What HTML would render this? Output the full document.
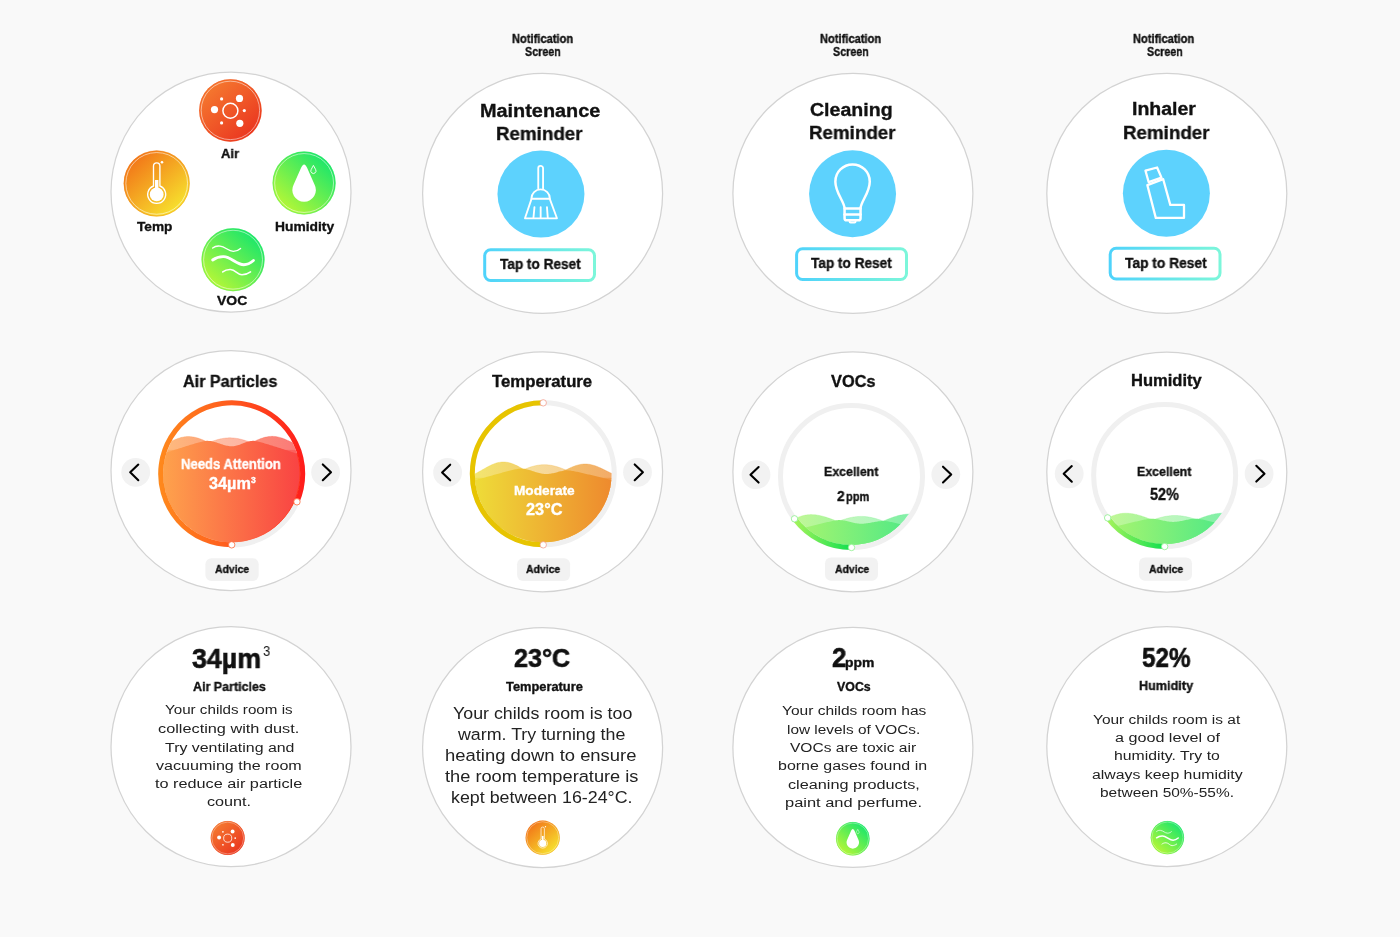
<!DOCTYPE html><html><head><meta charset="utf-8"><title>Air monitor screens</title><style>html,body{margin:0;padding:0;}body{width:1400px;height:937px;background:#f9f9f9;position:relative;overflow:hidden;font-family:"Liberation Sans",sans-serif;}.bg{position:absolute;left:0;top:0;}.t{position:absolute;white-space:nowrap;line-height:1;transform-origin:0 0;will-change:transform;}.bm{display:inline-block;width:0;height:0;vertical-align:baseline;}</style></head><body><svg class="bg" width="1400" height="937" viewBox="0 0 1400 937"><defs><linearGradient id="gAir" x1="0.15" y1="0.1" x2="0.85" y2="0.9" gradientUnits="objectBoundingBox"><stop offset="0" stop-color="#f57a2f"/><stop offset="1" stop-color="#ea3520"/></linearGradient><linearGradient id="gTemp" x1="0.15" y1="0.1" x2="0.85" y2="0.9" gradientUnits="objectBoundingBox"><stop offset="0" stop-color="#f27418"/><stop offset="1" stop-color="#f7e42e"/></linearGradient><linearGradient id="gGreen" x1="0.85" y1="0.1" x2="0.15" y2="0.9" gradientUnits="objectBoundingBox"><stop offset="0" stop-color="#17e66c"/><stop offset="1" stop-color="#b9f735"/></linearGradient><linearGradient id="gBtn" x1="0" y1="0" x2="1" y2="0" gradientUnits="objectBoundingBox"><stop offset="0" stop-color="#4fd3fb"/><stop offset="1" stop-color="#7cf6da"/></linearGradient><linearGradient id="arc1" x1="157.7" y1="473.85" x2="305.7" y2="473.85" gradientUnits="userSpaceOnUse"><stop offset="0" stop-color="#ff8a1c"/><stop offset="0.5" stop-color="#ff5a1e"/><stop offset="1" stop-color="#ff1a1a"/></linearGradient><linearGradient id="fill1" x1="163.7" y1="473.85" x2="299.7" y2="473.85" gradientUnits="userSpaceOnUse"><stop offset="0" stop-color="#fea24c"/><stop offset="1" stop-color="#f94343"/></linearGradient><clipPath id="gclip1"><circle cx="231.7" cy="473.85" r="68.4"/></clipPath><clipPath id="gclip1b"><path d="M156.7,455.71 L157.7,455.39 L158.7,455.06 L159.7,454.73 L160.7,454.41 L161.7,454.08 L162.7,453.76 L163.7,453.43 L164.7,453.11 L165.7,452.78 L166.7,452.46 L167.7,452.13 L168.7,451.81 L169.7,451.49 L170.7,451.16 L171.7,450.84 L172.7,450.52 L173.7,450.19 L174.7,449.87 L175.7,449.55 L176.7,449.23 L177.7,448.91 L178.7,448.59 L179.7,448.27 L180.7,447.95 L181.7,447.63 L182.7,447.31 L183.7,447 L184.7,446.68 L185.7,446.37 L186.7,446.05 L187.7,445.74 L188.7,445.43 L189.7,445.12 L190.7,444.81 L191.7,444.51 L192.7,444.2 L193.7,443.9 L194.7,443.61 L195.7,443.31 L196.7,443.03 L197.7,442.74 L198.7,442.47 L199.7,442.2 L200.7,441.94 L201.7,441.69 L202.7,441.46 L203.7,441.26 L204.7,441.08 L205.7,440.94 L206.7,440.86 L207.7,440.86 L208.7,440.9 L209.7,440.99 L210.7,441.12 L211.7,441.29 L212.7,441.5 L213.7,441.73 L214.7,442 L215.7,442.29 L216.7,442.6 L217.7,442.93 L218.7,443.26 L219.7,443.6 L220.7,443.94 L221.7,444.27 L222.7,444.6 L223.7,444.9 L224.7,445.18 L225.7,445.44 L226.7,445.67 L227.7,445.86 L228.7,446.02 L229.7,446.14 L230.7,446.21 L231.7,446.25 L232.7,446.24 L233.7,446.16 L234.7,446.03 L235.7,445.85 L236.7,445.61 L237.7,445.33 L238.7,445 L239.7,444.65 L240.7,444.27 L241.7,443.87 L242.7,443.47 L243.7,443.07 L244.7,442.68 L245.7,442.31 L246.7,441.96 L247.7,441.66 L248.7,441.39 L249.7,441.17 L250.7,441.01 L251.7,440.9 L252.7,440.85 L253.7,440.87 L254.7,440.97 L255.7,441.13 L256.7,441.32 L257.7,441.53 L258.7,441.77 L259.7,442.02 L260.7,442.28 L261.7,442.55 L262.7,442.83 L263.7,443.11 L264.7,443.4 L265.7,443.7 L266.7,443.99 L267.7,444.29 L268.7,444.6 L269.7,444.9 L270.7,445.21 L271.7,445.52 L272.7,445.83 L273.7,446.15 L274.7,446.46 L275.7,446.77 L276.7,447.09 L277.7,447.41 L278.7,447.73 L279.7,448.04 L280.7,448.36 L281.7,448.68 L282.7,449 L283.7,449.32 L284.7,449.65 L285.7,449.97 L286.7,450.29 L287.7,450.61 L288.7,450.94 L289.7,451.26 L290.7,451.58 L291.7,451.91 L292.7,452.23 L293.7,452.56 L294.7,452.88 L295.7,453.2 L296.7,453.53 L297.7,453.86 L298.7,454.18 L299.7,454.51 L300.7,454.83 L301.7,455.16 L302.7,455.48 L303.7,455.81 L304.7,456.14 L305.7,456.46 L306.7,456.79 V553.85 H151.7 Z"/></clipPath><linearGradient id="fe1" x1="163.7" y1="473.85" x2="299.7" y2="473.85" gradientUnits="userSpaceOnUse"><stop offset="0" stop-color="#ff3a1a" stop-opacity="0"/><stop offset="0.55" stop-color="#ff3a1a" stop-opacity="0"/><stop offset="1" stop-color="#ff3a1a" stop-opacity="1"/></linearGradient><linearGradient id="arc2" x1="469.25" y1="473.85" x2="617.25" y2="473.85" gradientUnits="userSpaceOnUse"><stop offset="0" stop-color="#e6c300"/><stop offset="1" stop-color="#e6c300"/></linearGradient><linearGradient id="fill2" x1="475.25" y1="473.85" x2="611.25" y2="473.85" gradientUnits="userSpaceOnUse"><stop offset="0" stop-color="#eedc38"/><stop offset="1" stop-color="#ee8a2e"/></linearGradient><clipPath id="gclip2"><circle cx="543.25" cy="473.85" r="68.4"/></clipPath><linearGradient id="arc3" x1="777.5" y1="476.5" x2="925.5" y2="476.5" gradientUnits="userSpaceOnUse"><stop offset="0" stop-color="#b0f560"/><stop offset="0.12" stop-color="#a2f35a"/><stop offset="0.5" stop-color="#0fdf4f"/><stop offset="1" stop-color="#0fdf4f"/></linearGradient><linearGradient id="fill3" x1="783.5" y1="476.5" x2="919.5" y2="476.5" gradientUnits="userSpaceOnUse"><stop offset="0" stop-color="#b2f66c"/><stop offset="1" stop-color="#48e888"/></linearGradient><clipPath id="gclip3"><circle cx="851.5" cy="476.5" r="68.4"/></clipPath><linearGradient id="arc4" x1="1090.65" y1="475.55" x2="1238.65" y2="475.55" gradientUnits="userSpaceOnUse"><stop offset="0" stop-color="#b0f560"/><stop offset="0.12" stop-color="#a2f35a"/><stop offset="0.5" stop-color="#0fdf4f"/><stop offset="1" stop-color="#0fdf4f"/></linearGradient><linearGradient id="fill4" x1="1096.65" y1="475.55" x2="1232.65" y2="475.55" gradientUnits="userSpaceOnUse"><stop offset="0" stop-color="#b2f66c"/><stop offset="1" stop-color="#48e888"/></linearGradient><clipPath id="gclip4"><circle cx="1164.65" cy="475.55" r="68.4"/></clipPath></defs><circle cx="231" cy="192" r="120" fill="#fff" stroke="#d3d3d3" stroke-width="1.25"/><circle cx="542.6" cy="193.4" r="120" fill="#fff" stroke="#d3d3d3" stroke-width="1.25"/><circle cx="852.9" cy="193.4" r="120" fill="#fff" stroke="#d3d3d3" stroke-width="1.25"/><circle cx="1166.8" cy="193.4" r="120" fill="#fff" stroke="#d3d3d3" stroke-width="1.25"/><circle cx="231" cy="470.5" r="120" fill="#fff" stroke="#d3d3d3" stroke-width="1.25"/><circle cx="542.6" cy="471.8" r="120" fill="#fff" stroke="#d3d3d3" stroke-width="1.25"/><circle cx="852.9" cy="471.8" r="120" fill="#fff" stroke="#d3d3d3" stroke-width="1.25"/><circle cx="1166.8" cy="472" r="120" fill="#fff" stroke="#d3d3d3" stroke-width="1.25"/><circle cx="231" cy="746.7" r="120" fill="#fff" stroke="#d3d3d3" stroke-width="1.25"/><circle cx="542.6" cy="747.6" r="120" fill="#fff" stroke="#d3d3d3" stroke-width="1.25"/><circle cx="852.9" cy="747.4" r="120" fill="#fff" stroke="#d3d3d3" stroke-width="1.25"/><circle cx="1166.8" cy="746.5" r="120" fill="#fff" stroke="#d3d3d3" stroke-width="1.25"/><circle cx="230.4" cy="110.4" r="31.25" fill="url(#gAir)"/><circle cx="230.4" cy="110.4" r="30.9" fill="none" stroke="#f24b18" stroke-width="0.62" stroke-opacity="0.55"/><circle cx="230.4" cy="110.4" r="29.22" fill="none" stroke="#fff" stroke-width="0.69" stroke-opacity="0.75"/><g transform="translate(230.4 110.4) scale(1)" fill="#fff"><circle cx="0" cy="0.3" r="7.5" fill="none" stroke="#fff" stroke-width="1.45"/><circle cx="9.1" cy="-12" r="3.6"/><circle cx="9.4" cy="12.9" r="3.6"/><circle cx="-15.9" cy="-0.8" r="3.6"/><circle cx="-8.8" cy="-11.5" r="1.6"/><circle cx="-8.8" cy="12.5" r="1.6"/><circle cx="13.9" cy="0.2" r="1.6"/></g><circle cx="156.7" cy="183.4" r="33" fill="url(#gTemp)"/><circle cx="156.7" cy="183.4" r="32.65" fill="none" stroke="#f07a16" stroke-width="0.66" stroke-opacity="0.55"/><circle cx="156.7" cy="183.4" r="30.86" fill="none" stroke="#fff" stroke-width="0.73" stroke-opacity="0.75"/><g transform="translate(156.7 183.4) scale(1)"><path d="M-3.2,2.6 V-17.3 A3.2,3.2 0 0 1 3.2,-17.3 V2.6 A9,9 0 1 1 -3.2,2.6 Z" fill="none" stroke="#fff" stroke-width="1.35" stroke-linejoin="round"/><circle cx="0" cy="11" r="6.9" fill="#fff"/><rect x="-1.7" y="-3.4" width="3.4" height="12" fill="#fff"/><circle cx="5.3" cy="-21.2" r="1.3" fill="#fff"/></g><circle cx="304.1" cy="183" r="31.5" fill="url(#gGreen)"/><circle cx="304.1" cy="183" r="31.15" fill="none" stroke="#2ae860" stroke-width="0.63" stroke-opacity="0.55"/><circle cx="304.1" cy="183" r="29.45" fill="none" stroke="#fff" stroke-width="0.69" stroke-opacity="0.75"/><g transform="translate(304.1 183) scale(1)"><path d="M0,-18.4 C1.2,-18.4 2,-17 3,-15.3 L10.4,1.4 A11.8,11.8 0 1 1 -10.4,1.4 L-3,-15.3 C-2,-17 -1.2,-18.4 0,-18.4 Z" fill="#fff"/><path d="M9.3,-17.6 L11.5,-13.5 A2.6,2.6 0 1 1 7.1,-13.5 Z" fill="none" stroke="#fff" stroke-width="0.9" stroke-linejoin="round"/></g><circle cx="233.05" cy="259.7" r="31.5" fill="url(#gGreen)"/><circle cx="233.05" cy="259.7" r="31.15" fill="none" stroke="#2ae860" stroke-width="0.63" stroke-opacity="0.55"/><circle cx="233.05" cy="259.7" r="29.45" fill="none" stroke="#fff" stroke-width="0.69" stroke-opacity="0.75"/><g transform="translate(233.05 259.7) scale(1)" fill="none" stroke="#fff" stroke-linecap="round"><path d="M-20.4,-11.6 C-18,-13.6 -15.5,-13.9 -13,-13.6 C-7.5,-13 -5,-8.4 0.3,-8.4 C3.5,-8.4 5.8,-9.6 7.5,-11.2" stroke-width="1.35"/><path d="M-20.4,0.3 C-17,-2.2 -13,-3.2 -9.4,-3.1 C-2,-3 3.5,5 10.8,5 C14.5,5 17.8,3 20.4,0.8" stroke-width="2.9"/><path d="M-10.3,12.2 C-8,10.4 -5.5,9.7 -2.6,9.8 C2.5,10 4.5,15.1 8.9,15.1 C12,15.1 15,14 17.5,12.2" stroke-width="1.55"/></g><circle cx="227.7" cy="838" r="17" fill="url(#gAir)"/><circle cx="227.7" cy="838" r="16.65" fill="none" stroke="#f24b18" stroke-width="0.5" stroke-opacity="0.55"/><circle cx="227.7" cy="838" r="15.9" fill="none" stroke="#fff" stroke-width="0.45" stroke-opacity="0.75"/><g transform="translate(227.7 838) scale(0.54)" fill="#fff"><circle cx="0" cy="0.3" r="7.5" fill="none" stroke="#fff" stroke-width="1.45"/><circle cx="9.1" cy="-12" r="3.6"/><circle cx="9.4" cy="12.9" r="3.6"/><circle cx="-15.9" cy="-0.8" r="3.6"/><circle cx="-8.8" cy="-11.5" r="1.6"/><circle cx="-8.8" cy="12.5" r="1.6"/><circle cx="13.9" cy="0.2" r="1.6"/></g><circle cx="542.7" cy="837.7" r="17.1" fill="url(#gTemp)"/><circle cx="542.7" cy="837.7" r="16.75" fill="none" stroke="#f07a16" stroke-width="0.5" stroke-opacity="0.55"/><circle cx="542.7" cy="837.7" r="15.99" fill="none" stroke="#fff" stroke-width="0.45" stroke-opacity="0.75"/><g transform="translate(542.7 837.7) scale(0.52)"><path d="M-3.2,2.6 V-17.3 A3.2,3.2 0 0 1 3.2,-17.3 V2.6 A9,9 0 1 1 -3.2,2.6 Z" fill="none" stroke="#fff" stroke-width="1.35" stroke-linejoin="round"/><circle cx="0" cy="11" r="6.9" fill="#fff"/><rect x="-1.7" y="-3.4" width="3.4" height="12" fill="#fff"/><circle cx="5.3" cy="-21.2" r="1.3" fill="#fff"/></g><circle cx="852.8" cy="838.7" r="16.8" fill="url(#gGreen)"/><circle cx="852.8" cy="838.7" r="16.45" fill="none" stroke="#2ae860" stroke-width="0.5" stroke-opacity="0.55"/><circle cx="852.8" cy="838.7" r="15.71" fill="none" stroke="#fff" stroke-width="0.45" stroke-opacity="0.75"/><g transform="translate(852.8 838.7) scale(0.53)"><path d="M0,-18.4 C1.2,-18.4 2,-17 3,-15.3 L10.4,1.4 A11.8,11.8 0 1 1 -10.4,1.4 L-3,-15.3 C-2,-17 -1.2,-18.4 0,-18.4 Z" fill="#fff"/><path d="M9.3,-17.6 L11.5,-13.5 A2.6,2.6 0 1 1 7.1,-13.5 Z" fill="none" stroke="#fff" stroke-width="0.9" stroke-linejoin="round"/></g><circle cx="1167.4" cy="837.6" r="16.7" fill="url(#gGreen)"/><circle cx="1167.4" cy="837.6" r="16.35" fill="none" stroke="#2ae860" stroke-width="0.5" stroke-opacity="0.55"/><circle cx="1167.4" cy="837.6" r="15.61" fill="none" stroke="#fff" stroke-width="0.45" stroke-opacity="0.75"/><g transform="translate(1167.4 837.6) scale(0.53)" fill="none" stroke="#fff" stroke-linecap="round"><path d="M-20.4,-11.6 C-18,-13.6 -15.5,-13.9 -13,-13.6 C-7.5,-13 -5,-8.4 0.3,-8.4 C3.5,-8.4 5.8,-9.6 7.5,-11.2" stroke-width="1.35"/><path d="M-20.4,0.3 C-17,-2.2 -13,-3.2 -9.4,-3.1 C-2,-3 3.5,5 10.8,5 C14.5,5 17.8,3 20.4,0.8" stroke-width="2.9"/><path d="M-10.3,12.2 C-8,10.4 -5.5,9.7 -2.6,9.8 C2.5,10 4.5,15.1 8.9,15.1 C12,15.1 15,14 17.5,12.2" stroke-width="1.55"/></g><circle cx="540.96" cy="194.1" r="43.5" fill="#5dd2fd"/><g transform="translate(540.96 194.1)" fill="none" stroke="#fff" stroke-width="1.85" stroke-linejoin="round" stroke-linecap="round"><path d="M-2.7,-5.6 V-25.8 A2.4,2.4 0 0 1 2.1,-25.8 V-5.6"/><path d="M-9.6,4.6 A9.3,9.3 0 0 1 9,4.6 Z"/><path d="M-9.6,5.3 L-16,24.2 H16 L9,5.3"/><path d="M-6.5,13 L-7.5,23.5 M-0.3,13 V23.5 M6,13 L6.8,23.5"/></g><circle cx="852.56" cy="193.83" r="43.5" fill="#5dd2fd"/><g transform="translate(852.56 193.83)" fill="none" stroke="#fff" stroke-width="2.5" stroke-linejoin="round" stroke-linecap="round"><path d="M-8,14.6 C-8,8 -17.2,-1 -17.2,-12.2 A17.2,17.2 0 0 1 17.2,-12.2 C17.2,-1 8,8 8,14.6 Z"/><path d="M-8,14.6 V24.3 Q-8,26.4 -5.9,26.4 H5.9 Q8,26.4 8,24.3 V14.6"/><path d="M-8,20.6 H8"/><path d="M-3,27 V27.6 Q-3,28.6 -2,28.6 H2 Q3,28.6 3,27.6 V27" stroke-width="1.9"/></g><circle cx="1166.39" cy="193.29" r="43.5" fill="#5dd2fd"/><g transform="translate(1166.39 193.29)" fill="none" stroke="#fff" stroke-width="2.3" stroke-linejoin="round" stroke-linecap="round"><path d="M-20.9,-22.6 L-9.3,-25.8 L-4.9,-15.7 L-17.7,-11.1 Z"/><path d="M-19,-8.1 L-3.2,-14.1 L3.9,11.6 H17.6 V24.6 H-10.6 Z"/></g><rect x="484.7" y="249.7" width="109.8" height="30.8" rx="6" fill="#fff" stroke="url(#gBtn)" stroke-width="3"/><rect x="796.6" y="248.7" width="109.9" height="30.8" rx="6" fill="#fff" stroke="url(#gBtn)" stroke-width="3"/><rect x="1110.2" y="248.3" width="109.8" height="30.7" rx="6" fill="#fff" stroke="url(#gBtn)" stroke-width="3"/><circle cx="231.7" cy="473.85" r="71" fill="none" stroke="#f0f0f0" stroke-width="5"/><g clip-path="url(#gclip1)"><path d="M156.7,450.25 L157.7,450.25 L158.7,450.25 L159.7,450.25 L160.7,450.25 L161.7,450.25 L162.7,450.25 L163.7,450.25 L164.7,450.25 L165.7,450.25 L166.7,450.25 L167.7,450.25 L168.7,450.25 L169.7,450.25 L170.7,450.25 L171.7,450.25 L172.7,450.25 L173.7,450.25 L174.7,450.25 L175.7,450.25 L176.7,450.25 L177.7,450.25 L178.7,450.25 L179.7,450.25 L180.7,450.24 L181.7,450.21 L182.7,450.15 L183.7,450.07 L184.7,449.97 L185.7,449.84 L186.7,449.69 L187.7,449.52 L188.7,449.33 L189.7,449.11 L190.7,448.88 L191.7,448.62 L192.7,448.35 L193.7,448.06 L194.7,447.76 L195.7,447.44 L196.7,447.1 L197.7,446.76 L198.7,446.4 L199.7,446.04 L200.7,445.67 L201.7,445.29 L202.7,444.9 L203.7,444.52 L204.7,444.13 L205.7,443.74 L206.7,443.35 L207.7,442.96 L208.7,442.58 L209.7,442.21 L210.7,441.84 L211.7,441.48 L212.7,441.13 L213.7,440.79 L214.7,440.47 L215.7,440.16 L216.7,439.86 L217.7,439.58 L218.7,439.32 L219.7,439.08 L220.7,438.86 L221.7,438.65 L222.7,438.47 L223.7,438.31 L224.7,438.18 L225.7,438.06 L226.7,437.97 L227.7,437.91 L228.7,437.87 L229.7,437.85 L230.7,437.86 L231.7,437.89 L232.7,437.95 L233.7,438.03 L234.7,438.13 L235.7,438.26 L236.7,438.41 L237.7,438.58 L238.7,438.77 L239.7,438.99 L240.7,439.22 L241.7,439.48 L242.7,439.75 L243.7,440.04 L244.7,440.34 L245.7,440.66 L246.7,441 L247.7,441.34 L248.7,441.7 L249.7,442.06 L250.7,442.43 L251.7,442.81 L252.7,443.2 L253.7,443.58 L254.7,443.97 L255.7,444.36 L256.7,444.75 L257.7,445.14 L258.7,445.52 L259.7,445.89 L260.7,446.26 L261.7,446.62 L262.7,446.97 L263.7,447.31 L264.7,447.63 L265.7,447.94 L266.7,448.24 L267.7,448.52 L268.7,448.78 L269.7,449.02 L270.7,449.24 L271.7,449.45 L272.7,449.63 L273.7,449.79 L274.7,449.92 L275.7,450.04 L276.7,450.13 L277.7,450.19 L278.7,450.23 L279.7,450.25 L280.7,450.25 L281.7,450.25 L282.7,450.25 L283.7,450.25 L284.7,450.25 L285.7,450.25 L286.7,450.25 L287.7,450.25 L288.7,450.25 L289.7,450.25 L290.7,450.25 L291.7,450.25 L292.7,450.25 L293.7,450.25 L294.7,450.25 L295.7,450.25 L296.7,450.25 L297.7,450.25 L298.7,450.25 L299.7,450.25 L300.7,450.25 L301.7,450.25 L302.7,450.25 L303.7,450.25 L304.7,450.25 L305.7,450.25 L306.7,450.25 V553.85 H151.7 Z" fill="url(#fill1)" fill-opacity="0.5"/><path d="M156.7,450.25 L157.7,450.25 L158.7,450.25 L159.7,450.25 L160.7,450.25 L161.7,450.25 L162.7,450.25 L163.7,450.25 L164.7,450.25 L165.7,450.25 L166.7,450.25 L167.7,450.25 L168.7,450.25 L169.7,450.25 L170.7,450.25 L171.7,450.25 L172.7,450.25 L173.7,450.25 L174.7,450.25 L175.7,450.25 L176.7,450.25 L177.7,450.25 L178.7,450.25 L179.7,450.25 L180.7,450.24 L181.7,450.21 L182.7,450.15 L183.7,450.07 L184.7,449.97 L185.7,449.84 L186.7,449.69 L187.7,449.52 L188.7,449.33 L189.7,449.11 L190.7,448.88 L191.7,448.62 L192.7,448.35 L193.7,448.06 L194.7,447.76 L195.7,447.44 L196.7,447.1 L197.7,446.76 L198.7,446.4 L199.7,446.04 L200.7,445.67 L201.7,445.29 L202.7,444.9 L203.7,444.52 L204.7,444.13 L205.7,443.74 L206.7,443.35 L207.7,442.96 L208.7,442.58 L209.7,442.21 L210.7,441.84 L211.7,441.48 L212.7,441.13 L213.7,440.79 L214.7,440.47 L215.7,440.16 L216.7,439.86 L217.7,439.58 L218.7,439.32 L219.7,439.08 L220.7,438.86 L221.7,438.65 L222.7,438.47 L223.7,438.31 L224.7,438.18 L225.7,438.06 L226.7,437.97 L227.7,437.91 L228.7,437.87 L229.7,437.85 L230.7,437.86 L231.7,437.89 L232.7,437.95 L233.7,438.03 L234.7,438.13 L235.7,438.26 L236.7,438.41 L237.7,438.58 L238.7,438.77 L239.7,438.99 L240.7,439.22 L241.7,439.48 L242.7,439.75 L243.7,440.04 L244.7,440.34 L245.7,440.66 L246.7,441 L247.7,441.34 L248.7,441.7 L249.7,442.06 L250.7,442.43 L251.7,442.81 L252.7,443.2 L253.7,443.58 L254.7,443.97 L255.7,444.36 L256.7,444.75 L257.7,445.14 L258.7,445.52 L259.7,445.89 L260.7,446.26 L261.7,446.62 L262.7,446.97 L263.7,447.31 L264.7,447.63 L265.7,447.94 L266.7,448.24 L267.7,448.52 L268.7,448.78 L269.7,449.02 L270.7,449.24 L271.7,449.45 L272.7,449.63 L273.7,449.79 L274.7,449.92 L275.7,450.04 L276.7,450.13 L277.7,450.19 L278.7,450.23 L279.7,450.25 L280.7,450.25 L281.7,450.25 L282.7,450.25 L283.7,450.25 L284.7,450.25 L285.7,450.25 L286.7,450.25 L287.7,450.25 L288.7,450.25 L289.7,450.25 L290.7,450.25 L291.7,450.25 L292.7,450.25 L293.7,450.25 L294.7,450.25 L295.7,450.25 L296.7,450.25 L297.7,450.25 L298.7,450.25 L299.7,450.25 L300.7,450.25 L301.7,450.25 L302.7,450.25 L303.7,450.25 L304.7,450.25 L305.7,450.25 L306.7,450.25" fill="none" stroke="url(#fill1)" stroke-opacity="0.35" stroke-width="0.8"/><path d="M156.7,447.7 L157.7,447.37 L158.7,447.01 L159.7,446.63 L160.7,446.23 L161.7,445.8 L162.7,445.36 L163.7,444.91 L164.7,444.44 L165.7,443.97 L166.7,443.48 L167.7,443 L168.7,442.51 L169.7,442.03 L170.7,441.55 L171.7,441.08 L172.7,440.62 L173.7,440.17 L174.7,439.74 L175.7,439.33 L176.7,438.94 L177.7,438.57 L178.7,438.22 L179.7,437.91 L180.7,437.62 L181.7,437.37 L182.7,437.15 L183.7,436.96 L184.7,436.8 L185.7,436.69 L186.7,436.6 L187.7,436.56 L188.7,436.55 L189.7,436.58 L190.7,436.64 L191.7,436.74 L192.7,436.88 L193.7,437.04 L194.7,437.25 L195.7,437.48 L196.7,437.74 L197.7,438.03 L198.7,438.35 L199.7,438.7 L200.7,439.06 L201.7,439.45 L202.7,439.86 L203.7,440.29 L204.7,440.73 L205.7,441.18 L206.7,441.65 L207.7,442.12 L208.7,442.59 L209.7,443.07 L210.7,443.54 L211.7,444.01 L212.7,444.48 L213.7,444.93 L214.7,445.38 L215.7,445.81 L216.7,446.22 L217.7,446.62 L218.7,447 L219.7,447.35 L220.7,447.67 L221.7,447.97 L222.7,448.25 L223.7,448.49 L224.7,448.7 L225.7,448.88 L226.7,449.02 L227.7,449.13 L228.7,449.2 L229.7,449.24 L230.7,449.25 L231.7,449.21 L232.7,449.15 L233.7,449.04 L234.7,448.9 L235.7,448.73 L236.7,448.52 L237.7,448.28 L238.7,448.01 L239.7,447.71 L240.7,447.39 L241.7,447.03 L242.7,446.66 L243.7,446.26 L244.7,445.84 L245.7,445.41 L246.7,444.96 L247.7,444.5 L248.7,444.03 L249.7,443.55 L250.7,443.07 L251.7,442.58 L252.7,442.1 L253.7,441.62 L254.7,441.15 L255.7,440.69 L256.7,440.24 L257.7,439.8 L258.7,439.38 L259.7,438.98 L260.7,438.6 L261.7,438.25 L262.7,437.92 L263.7,437.62 L264.7,437.34 L265.7,437.1 L266.7,436.89 L267.7,436.71 L268.7,436.57 L269.7,436.46 L270.7,436.39 L271.7,436.35 L272.7,436.35 L273.7,436.39 L274.7,436.47 L275.7,436.58 L276.7,436.73 L277.7,436.91 L278.7,437.13 L279.7,437.39 L280.7,437.67 L281.7,437.98 L282.7,438.33 L283.7,438.7 L284.7,439.09 L285.7,439.5 L286.7,439.94 L287.7,440.39 L288.7,440.85 L289.7,441.33 L290.7,441.82 L291.7,442.31 L292.7,442.8 L293.7,443.29 L294.7,443.78 L295.7,444.27 L296.7,444.75 L297.7,445.21 L298.7,445.66 L299.7,446.1 L300.7,446.51 L301.7,446.9 L302.7,447.27 L303.7,447.62 L304.7,447.93 L305.7,448.21 L306.7,448.47 V553.85 H151.7 Z" fill="url(#fill1)" fill-opacity="0.72"/><path d="M156.7,447.7 L157.7,447.37 L158.7,447.01 L159.7,446.63 L160.7,446.23 L161.7,445.8 L162.7,445.36 L163.7,444.91 L164.7,444.44 L165.7,443.97 L166.7,443.48 L167.7,443 L168.7,442.51 L169.7,442.03 L170.7,441.55 L171.7,441.08 L172.7,440.62 L173.7,440.17 L174.7,439.74 L175.7,439.33 L176.7,438.94 L177.7,438.57 L178.7,438.22 L179.7,437.91 L180.7,437.62 L181.7,437.37 L182.7,437.15 L183.7,436.96 L184.7,436.8 L185.7,436.69 L186.7,436.6 L187.7,436.56 L188.7,436.55 L189.7,436.58 L190.7,436.64 L191.7,436.74 L192.7,436.88 L193.7,437.04 L194.7,437.25 L195.7,437.48 L196.7,437.74 L197.7,438.03 L198.7,438.35 L199.7,438.7 L200.7,439.06 L201.7,439.45 L202.7,439.86 L203.7,440.29 L204.7,440.73 L205.7,441.18 L206.7,441.65 L207.7,442.12 L208.7,442.59 L209.7,443.07 L210.7,443.54 L211.7,444.01 L212.7,444.48 L213.7,444.93 L214.7,445.38 L215.7,445.81 L216.7,446.22 L217.7,446.62 L218.7,447 L219.7,447.35 L220.7,447.67 L221.7,447.97 L222.7,448.25 L223.7,448.49 L224.7,448.7 L225.7,448.88 L226.7,449.02 L227.7,449.13 L228.7,449.2 L229.7,449.24 L230.7,449.25 L231.7,449.21 L232.7,449.15 L233.7,449.04 L234.7,448.9 L235.7,448.73 L236.7,448.52 L237.7,448.28 L238.7,448.01 L239.7,447.71 L240.7,447.39 L241.7,447.03 L242.7,446.66 L243.7,446.26 L244.7,445.84 L245.7,445.41 L246.7,444.96 L247.7,444.5 L248.7,444.03 L249.7,443.55 L250.7,443.07 L251.7,442.58 L252.7,442.1 L253.7,441.62 L254.7,441.15 L255.7,440.69 L256.7,440.24 L257.7,439.8 L258.7,439.38 L259.7,438.98 L260.7,438.6 L261.7,438.25 L262.7,437.92 L263.7,437.62 L264.7,437.34 L265.7,437.1 L266.7,436.89 L267.7,436.71 L268.7,436.57 L269.7,436.46 L270.7,436.39 L271.7,436.35 L272.7,436.35 L273.7,436.39 L274.7,436.47 L275.7,436.58 L276.7,436.73 L277.7,436.91 L278.7,437.13 L279.7,437.39 L280.7,437.67 L281.7,437.98 L282.7,438.33 L283.7,438.7 L284.7,439.09 L285.7,439.5 L286.7,439.94 L287.7,440.39 L288.7,440.85 L289.7,441.33 L290.7,441.82 L291.7,442.31 L292.7,442.8 L293.7,443.29 L294.7,443.78 L295.7,444.27 L296.7,444.75 L297.7,445.21 L298.7,445.66 L299.7,446.1 L300.7,446.51 L301.7,446.9 L302.7,447.27 L303.7,447.62 L304.7,447.93 L305.7,448.21 L306.7,448.47" fill="none" stroke="url(#fill1)" stroke-opacity="0.4" stroke-width="0.8"/><path d="M156.7,455.71 L157.7,455.39 L158.7,455.06 L159.7,454.73 L160.7,454.41 L161.7,454.08 L162.7,453.76 L163.7,453.43 L164.7,453.11 L165.7,452.78 L166.7,452.46 L167.7,452.13 L168.7,451.81 L169.7,451.49 L170.7,451.16 L171.7,450.84 L172.7,450.52 L173.7,450.19 L174.7,449.87 L175.7,449.55 L176.7,449.23 L177.7,448.91 L178.7,448.59 L179.7,448.27 L180.7,447.95 L181.7,447.63 L182.7,447.31 L183.7,447 L184.7,446.68 L185.7,446.37 L186.7,446.05 L187.7,445.74 L188.7,445.43 L189.7,445.12 L190.7,444.81 L191.7,444.51 L192.7,444.2 L193.7,443.9 L194.7,443.61 L195.7,443.31 L196.7,443.03 L197.7,442.74 L198.7,442.47 L199.7,442.2 L200.7,441.94 L201.7,441.69 L202.7,441.46 L203.7,441.26 L204.7,441.08 L205.7,440.94 L206.7,440.86 L207.7,440.86 L208.7,440.9 L209.7,440.99 L210.7,441.12 L211.7,441.29 L212.7,441.5 L213.7,441.73 L214.7,442 L215.7,442.29 L216.7,442.6 L217.7,442.93 L218.7,443.26 L219.7,443.6 L220.7,443.94 L221.7,444.27 L222.7,444.6 L223.7,444.9 L224.7,445.18 L225.7,445.44 L226.7,445.67 L227.7,445.86 L228.7,446.02 L229.7,446.14 L230.7,446.21 L231.7,446.25 L232.7,446.24 L233.7,446.16 L234.7,446.03 L235.7,445.85 L236.7,445.61 L237.7,445.33 L238.7,445 L239.7,444.65 L240.7,444.27 L241.7,443.87 L242.7,443.47 L243.7,443.07 L244.7,442.68 L245.7,442.31 L246.7,441.96 L247.7,441.66 L248.7,441.39 L249.7,441.17 L250.7,441.01 L251.7,440.9 L252.7,440.85 L253.7,440.87 L254.7,440.97 L255.7,441.13 L256.7,441.32 L257.7,441.53 L258.7,441.77 L259.7,442.02 L260.7,442.28 L261.7,442.55 L262.7,442.83 L263.7,443.11 L264.7,443.4 L265.7,443.7 L266.7,443.99 L267.7,444.29 L268.7,444.6 L269.7,444.9 L270.7,445.21 L271.7,445.52 L272.7,445.83 L273.7,446.15 L274.7,446.46 L275.7,446.77 L276.7,447.09 L277.7,447.41 L278.7,447.73 L279.7,448.04 L280.7,448.36 L281.7,448.68 L282.7,449 L283.7,449.32 L284.7,449.65 L285.7,449.97 L286.7,450.29 L287.7,450.61 L288.7,450.94 L289.7,451.26 L290.7,451.58 L291.7,451.91 L292.7,452.23 L293.7,452.56 L294.7,452.88 L295.7,453.2 L296.7,453.53 L297.7,453.86 L298.7,454.18 L299.7,454.51 L300.7,454.83 L301.7,455.16 L302.7,455.48 L303.7,455.81 L304.7,456.14 L305.7,456.46 L306.7,456.79 V553.85 H151.7 Z" fill="url(#fill1)"/></g><circle cx="231.7" cy="473.85" r="68.4" fill="none" stroke="url(#fe1)" stroke-width="1" clip-path="url(#gclip1b)"/><path d="M231.7,544.85 A71,71 0 1 1 296.96,501.82" fill="none" stroke="url(#arc1)" stroke-width="5"/><circle cx="231.7" cy="544.85" r="3.2" fill="#fff" stroke="#ff6a3a" stroke-width="0.8"/><circle cx="296.96" cy="501.82" r="3.2" fill="#fff" stroke="#ff6a3a" stroke-width="0.8"/><circle cx="543.25" cy="473.85" r="71" fill="none" stroke="#f0f0f0" stroke-width="5"/><g clip-path="url(#gclip2)"><path d="M468.25,478 L469.25,478 L470.25,478 L471.25,478 L472.25,478 L473.25,478 L474.25,478 L475.25,478 L476.25,478 L477.25,478 L478.25,478 L479.25,478 L480.25,478 L481.25,478 L482.25,478 L483.25,478 L484.25,478 L485.25,478 L486.25,478 L487.25,478 L488.25,478 L489.25,478 L490.25,478 L491.25,478 L492.25,478 L493.25,478 L494.25,478 L495.25,477.99 L496.25,477.95 L497.25,477.88 L498.25,477.79 L499.25,477.67 L500.25,477.53 L501.25,477.37 L502.25,477.18 L503.25,476.96 L504.25,476.73 L505.25,476.47 L506.25,476.2 L507.25,475.9 L508.25,475.59 L509.25,475.26 L510.25,474.91 L511.25,474.55 L512.25,474.18 L513.25,473.8 L514.25,473.4 L515.25,473 L516.25,472.6 L517.25,472.18 L518.25,471.77 L519.25,471.35 L520.25,470.93 L521.25,470.52 L522.25,470.1 L523.25,469.7 L524.25,469.3 L525.25,468.9 L526.25,468.52 L527.25,468.15 L528.25,467.79 L529.25,467.44 L530.25,467.11 L531.25,466.8 L532.25,466.5 L533.25,466.23 L534.25,465.97 L535.25,465.74 L536.25,465.52 L537.25,465.33 L538.25,465.17 L539.25,465.03 L540.25,464.91 L541.25,464.82 L542.25,464.75 L543.25,464.71 L544.25,464.7 L545.25,464.71 L546.25,464.75 L547.25,464.82 L548.25,464.91 L549.25,465.03 L550.25,465.17 L551.25,465.33 L552.25,465.52 L553.25,465.74 L554.25,465.97 L555.25,466.23 L556.25,466.5 L557.25,466.8 L558.25,467.11 L559.25,467.44 L560.25,467.79 L561.25,468.15 L562.25,468.52 L563.25,468.9 L564.25,469.3 L565.25,469.7 L566.25,470.1 L567.25,470.52 L568.25,470.93 L569.25,471.35 L570.25,471.77 L571.25,472.18 L572.25,472.6 L573.25,473 L574.25,473.4 L575.25,473.8 L576.25,474.18 L577.25,474.55 L578.25,474.91 L579.25,475.26 L580.25,475.59 L581.25,475.9 L582.25,476.2 L583.25,476.47 L584.25,476.73 L585.25,476.96 L586.25,477.18 L587.25,477.37 L588.25,477.53 L589.25,477.67 L590.25,477.79 L591.25,477.88 L592.25,477.95 L593.25,477.99 L594.25,478 L595.25,478 L596.25,478 L597.25,478 L598.25,478 L599.25,478 L600.25,478 L601.25,478 L602.25,478 L603.25,478 L604.25,478 L605.25,478 L606.25,478 L607.25,478 L608.25,478 L609.25,478 L610.25,478 L611.25,478 L612.25,478 L613.25,478 L614.25,478 L615.25,478 L616.25,478 L617.25,478 L618.25,478 V553.85 H463.25 Z" fill="url(#fill2)" fill-opacity="0.5"/><path d="M468.25,478 L469.25,478 L470.25,478 L471.25,478 L472.25,478 L473.25,478 L474.25,478 L475.25,478 L476.25,478 L477.25,478 L478.25,478 L479.25,478 L480.25,478 L481.25,478 L482.25,478 L483.25,478 L484.25,478 L485.25,478 L486.25,478 L487.25,478 L488.25,478 L489.25,478 L490.25,478 L491.25,478 L492.25,478 L493.25,478 L494.25,478 L495.25,477.99 L496.25,477.95 L497.25,477.88 L498.25,477.79 L499.25,477.67 L500.25,477.53 L501.25,477.37 L502.25,477.18 L503.25,476.96 L504.25,476.73 L505.25,476.47 L506.25,476.2 L507.25,475.9 L508.25,475.59 L509.25,475.26 L510.25,474.91 L511.25,474.55 L512.25,474.18 L513.25,473.8 L514.25,473.4 L515.25,473 L516.25,472.6 L517.25,472.18 L518.25,471.77 L519.25,471.35 L520.25,470.93 L521.25,470.52 L522.25,470.1 L523.25,469.7 L524.25,469.3 L525.25,468.9 L526.25,468.52 L527.25,468.15 L528.25,467.79 L529.25,467.44 L530.25,467.11 L531.25,466.8 L532.25,466.5 L533.25,466.23 L534.25,465.97 L535.25,465.74 L536.25,465.52 L537.25,465.33 L538.25,465.17 L539.25,465.03 L540.25,464.91 L541.25,464.82 L542.25,464.75 L543.25,464.71 L544.25,464.7 L545.25,464.71 L546.25,464.75 L547.25,464.82 L548.25,464.91 L549.25,465.03 L550.25,465.17 L551.25,465.33 L552.25,465.52 L553.25,465.74 L554.25,465.97 L555.25,466.23 L556.25,466.5 L557.25,466.8 L558.25,467.11 L559.25,467.44 L560.25,467.79 L561.25,468.15 L562.25,468.52 L563.25,468.9 L564.25,469.3 L565.25,469.7 L566.25,470.1 L567.25,470.52 L568.25,470.93 L569.25,471.35 L570.25,471.77 L571.25,472.18 L572.25,472.6 L573.25,473 L574.25,473.4 L575.25,473.8 L576.25,474.18 L577.25,474.55 L578.25,474.91 L579.25,475.26 L580.25,475.59 L581.25,475.9 L582.25,476.2 L583.25,476.47 L584.25,476.73 L585.25,476.96 L586.25,477.18 L587.25,477.37 L588.25,477.53 L589.25,477.67 L590.25,477.79 L591.25,477.88 L592.25,477.95 L593.25,477.99 L594.25,478 L595.25,478 L596.25,478 L597.25,478 L598.25,478 L599.25,478 L600.25,478 L601.25,478 L602.25,478 L603.25,478 L604.25,478 L605.25,478 L606.25,478 L607.25,478 L608.25,478 L609.25,478 L610.25,478 L611.25,478 L612.25,478 L613.25,478 L614.25,478 L615.25,478 L616.25,478 L617.25,478 L618.25,478" fill="none" stroke="url(#fill2)" stroke-opacity="0.35" stroke-width="0.8"/><path d="M468.25,476.26 L469.25,475.99 L470.25,475.68 L471.25,475.34 L472.25,474.96 L473.25,474.55 L474.25,474.11 L475.25,473.65 L476.25,473.16 L477.25,472.65 L478.25,472.12 L479.25,471.57 L480.25,471.01 L481.25,470.45 L482.25,469.87 L483.25,469.3 L484.25,468.73 L485.25,468.16 L486.25,467.6 L487.25,467.05 L488.25,466.51 L489.25,465.99 L490.25,465.5 L491.25,465.02 L492.25,464.57 L493.25,464.16 L494.25,463.77 L495.25,463.42 L496.25,463.1 L497.25,462.82 L498.25,462.58 L499.25,462.38 L500.25,462.22 L501.25,462.1 L502.25,462.03 L503.25,462 L504.25,462.02 L505.25,462.08 L506.25,462.18 L507.25,462.33 L508.25,462.51 L509.25,462.74 L510.25,463.01 L511.25,463.32 L512.25,463.67 L513.25,464.05 L514.25,464.46 L515.25,464.9 L516.25,465.37 L517.25,465.86 L518.25,466.37 L519.25,466.9 L520.25,467.45 L521.25,468.01 L522.25,468.58 L523.25,469.15 L524.25,469.73 L525.25,470.3 L526.25,470.87 L527.25,471.44 L528.25,471.99 L529.25,472.52 L530.25,473.04 L531.25,473.54 L532.25,474.01 L533.25,474.46 L534.25,474.87 L535.25,475.26 L536.25,475.61 L537.25,475.93 L538.25,476.2 L539.25,476.44 L540.25,476.64 L541.25,476.8 L542.25,476.91 L543.25,476.98 L544.25,477 L545.25,476.98 L546.25,476.93 L547.25,476.83 L548.25,476.7 L549.25,476.54 L550.25,476.33 L551.25,476.1 L552.25,475.83 L553.25,475.52 L554.25,475.19 L555.25,474.83 L556.25,474.45 L557.25,474.04 L558.25,473.61 L559.25,473.17 L560.25,472.7 L561.25,472.23 L562.25,471.74 L563.25,471.25 L564.25,470.75 L565.25,470.25 L566.25,469.75 L567.25,469.26 L568.25,468.77 L569.25,468.3 L570.25,467.83 L571.25,467.39 L572.25,466.96 L573.25,466.55 L574.25,466.17 L575.25,465.81 L576.25,465.48 L577.25,465.17 L578.25,464.9 L579.25,464.67 L580.25,464.46 L581.25,464.3 L582.25,464.17 L583.25,464.07 L584.25,464.02 L585.25,464 L586.25,464.02 L587.25,464.08 L588.25,464.18 L589.25,464.31 L590.25,464.48 L591.25,464.69 L592.25,464.93 L593.25,465.2 L594.25,465.5 L595.25,465.83 L596.25,466.19 L597.25,466.58 L598.25,466.99 L599.25,467.42 L600.25,467.86 L601.25,468.33 L602.25,468.8 L603.25,469.29 L604.25,469.78 L605.25,470.28 L606.25,470.77 L607.25,471.27 L608.25,471.76 L609.25,472.25 L610.25,472.72 L611.25,473.18 L612.25,473.63 L613.25,474.05 L614.25,474.46 L615.25,474.84 L616.25,475.2 L617.25,475.53 L618.25,475.83 V553.85 H463.25 Z" fill="url(#fill2)" fill-opacity="0.72"/><path d="M468.25,476.26 L469.25,475.99 L470.25,475.68 L471.25,475.34 L472.25,474.96 L473.25,474.55 L474.25,474.11 L475.25,473.65 L476.25,473.16 L477.25,472.65 L478.25,472.12 L479.25,471.57 L480.25,471.01 L481.25,470.45 L482.25,469.87 L483.25,469.3 L484.25,468.73 L485.25,468.16 L486.25,467.6 L487.25,467.05 L488.25,466.51 L489.25,465.99 L490.25,465.5 L491.25,465.02 L492.25,464.57 L493.25,464.16 L494.25,463.77 L495.25,463.42 L496.25,463.1 L497.25,462.82 L498.25,462.58 L499.25,462.38 L500.25,462.22 L501.25,462.1 L502.25,462.03 L503.25,462 L504.25,462.02 L505.25,462.08 L506.25,462.18 L507.25,462.33 L508.25,462.51 L509.25,462.74 L510.25,463.01 L511.25,463.32 L512.25,463.67 L513.25,464.05 L514.25,464.46 L515.25,464.9 L516.25,465.37 L517.25,465.86 L518.25,466.37 L519.25,466.9 L520.25,467.45 L521.25,468.01 L522.25,468.58 L523.25,469.15 L524.25,469.73 L525.25,470.3 L526.25,470.87 L527.25,471.44 L528.25,471.99 L529.25,472.52 L530.25,473.04 L531.25,473.54 L532.25,474.01 L533.25,474.46 L534.25,474.87 L535.25,475.26 L536.25,475.61 L537.25,475.93 L538.25,476.2 L539.25,476.44 L540.25,476.64 L541.25,476.8 L542.25,476.91 L543.25,476.98 L544.25,477 L545.25,476.98 L546.25,476.93 L547.25,476.83 L548.25,476.7 L549.25,476.54 L550.25,476.33 L551.25,476.1 L552.25,475.83 L553.25,475.52 L554.25,475.19 L555.25,474.83 L556.25,474.45 L557.25,474.04 L558.25,473.61 L559.25,473.17 L560.25,472.7 L561.25,472.23 L562.25,471.74 L563.25,471.25 L564.25,470.75 L565.25,470.25 L566.25,469.75 L567.25,469.26 L568.25,468.77 L569.25,468.3 L570.25,467.83 L571.25,467.39 L572.25,466.96 L573.25,466.55 L574.25,466.17 L575.25,465.81 L576.25,465.48 L577.25,465.17 L578.25,464.9 L579.25,464.67 L580.25,464.46 L581.25,464.3 L582.25,464.17 L583.25,464.07 L584.25,464.02 L585.25,464 L586.25,464.02 L587.25,464.08 L588.25,464.18 L589.25,464.31 L590.25,464.48 L591.25,464.69 L592.25,464.93 L593.25,465.2 L594.25,465.5 L595.25,465.83 L596.25,466.19 L597.25,466.58 L598.25,466.99 L599.25,467.42 L600.25,467.86 L601.25,468.33 L602.25,468.8 L603.25,469.29 L604.25,469.78 L605.25,470.28 L606.25,470.77 L607.25,471.27 L608.25,471.76 L609.25,472.25 L610.25,472.72 L611.25,473.18 L612.25,473.63 L613.25,474.05 L614.25,474.46 L615.25,474.84 L616.25,475.2 L617.25,475.53 L618.25,475.83" fill="none" stroke="url(#fill2)" stroke-opacity="0.4" stroke-width="0.8"/><path d="M468.25,482.23 L469.25,481.95 L470.25,481.66 L471.25,481.37 L472.25,481.09 L473.25,480.8 L474.25,480.52 L475.25,480.23 L476.25,479.94 L477.25,479.66 L478.25,479.37 L479.25,479.09 L480.25,478.8 L481.25,478.52 L482.25,478.23 L483.25,477.95 L484.25,477.66 L485.25,477.38 L486.25,477.09 L487.25,476.81 L488.25,476.53 L489.25,476.25 L490.25,475.96 L491.25,475.68 L492.25,475.4 L493.25,475.12 L494.25,474.84 L495.25,474.56 L496.25,474.28 L497.25,474 L498.25,473.72 L499.25,473.45 L500.25,473.17 L501.25,472.9 L502.25,472.62 L503.25,472.35 L504.25,472.08 L505.25,471.81 L506.25,471.55 L507.25,471.28 L508.25,471.02 L509.25,470.77 L510.25,470.51 L511.25,470.26 L512.25,470.02 L513.25,469.79 L514.25,469.56 L515.25,469.34 L516.25,469.14 L517.25,468.96 L518.25,468.8 L519.25,468.68 L520.25,468.61 L521.25,468.61 L522.25,468.65 L523.25,468.74 L524.25,468.86 L525.25,469.02 L526.25,469.21 L527.25,469.44 L528.25,469.69 L529.25,469.97 L530.25,470.27 L531.25,470.58 L532.25,470.9 L533.25,471.23 L534.25,471.56 L535.25,471.89 L536.25,472.21 L537.25,472.51 L538.25,472.8 L539.25,473.06 L540.25,473.3 L541.25,473.51 L542.25,473.68 L543.25,473.82 L544.25,473.92 L545.25,473.98 L546.25,474 L547.25,473.98 L548.25,473.92 L549.25,473.83 L550.25,473.7 L551.25,473.54 L552.25,473.35 L553.25,473.13 L554.25,472.9 L555.25,472.65 L556.25,472.39 L557.25,472.13 L558.25,471.87 L559.25,471.61 L560.25,471.37 L561.25,471.15 L562.25,470.94 L563.25,470.77 L564.25,470.62 L565.25,470.51 L566.25,470.44 L567.25,470.4 L568.25,470.41 L569.25,470.48 L570.25,470.59 L571.25,470.73 L572.25,470.89 L573.25,471.07 L574.25,471.25 L575.25,471.45 L576.25,471.66 L577.25,471.87 L578.25,472.08 L579.25,472.3 L580.25,472.52 L581.25,472.75 L582.25,472.98 L583.25,473.21 L584.25,473.44 L585.25,473.67 L586.25,473.9 L587.25,474.14 L588.25,474.38 L589.25,474.61 L590.25,474.85 L591.25,475.09 L592.25,475.33 L593.25,475.57 L594.25,475.81 L595.25,476.06 L596.25,476.3 L597.25,476.54 L598.25,476.78 L599.25,477.03 L600.25,477.27 L601.25,477.52 L602.25,477.76 L603.25,478 L604.25,478.25 L605.25,478.49 L606.25,478.74 L607.25,478.99 L608.25,479.23 L609.25,479.48 L610.25,479.72 L611.25,479.97 L612.25,480.22 L613.25,480.46 L614.25,480.71 L615.25,480.96 L616.25,481.2 L617.25,481.45 L618.25,481.7 V553.85 H463.25 Z" fill="url(#fill2)"/></g><path d="M543.25,544.85 A71,71 0 0 1 543.25,402.85" fill="none" stroke="#e7c400" stroke-width="5"/><circle cx="543.25" cy="544.85" r="3.2" fill="#fff" stroke="#f3a090" stroke-width="0.8"/><circle cx="543.25" cy="402.85" r="3.2" fill="#fff" stroke="#f3a090" stroke-width="0.8"/><circle cx="851.5" cy="476.5" r="71" fill="none" stroke="#f0f0f0" stroke-width="5"/><g clip-path="url(#gclip3)"><path d="M776.5,527.7 L777.5,527.7 L778.5,527.7 L779.5,527.7 L780.5,527.7 L781.5,527.7 L782.5,527.7 L783.5,527.7 L784.5,527.7 L785.5,527.7 L786.5,527.7 L787.5,527.7 L788.5,527.7 L789.5,527.7 L790.5,527.7 L791.5,527.7 L792.5,527.7 L793.5,527.7 L794.5,527.7 L795.5,527.7 L796.5,527.7 L797.5,527.7 L798.5,527.7 L799.5,527.7 L800.5,527.7 L801.5,527.7 L802.5,527.7 L803.5,527.7 L804.5,527.7 L805.5,527.7 L806.5,527.7 L807.5,527.7 L808.5,527.7 L809.5,527.7 L810.5,527.7 L811.5,527.7 L812.5,527.68 L813.5,527.64 L814.5,527.57 L815.5,527.49 L816.5,527.38 L817.5,527.25 L818.5,527.1 L819.5,526.93 L820.5,526.74 L821.5,526.54 L822.5,526.31 L823.5,526.07 L824.5,525.81 L825.5,525.54 L826.5,525.26 L827.5,524.96 L828.5,524.65 L829.5,524.33 L830.5,524 L831.5,523.66 L832.5,523.32 L833.5,522.97 L834.5,522.62 L835.5,522.26 L836.5,521.91 L837.5,521.55 L838.5,521.2 L839.5,520.85 L840.5,520.51 L841.5,520.17 L842.5,519.84 L843.5,519.52 L844.5,519.2 L845.5,518.9 L846.5,518.62 L847.5,518.34 L848.5,518.08 L849.5,517.84 L850.5,517.61 L851.5,517.4 L852.5,517.2 L853.5,517.03 L854.5,516.88 L855.5,516.75 L856.5,516.63 L857.5,516.54 L858.5,516.48 L859.5,516.43 L860.5,516.4 L861.5,516.4 L862.5,516.42 L863.5,516.46 L864.5,516.53 L865.5,516.61 L866.5,516.72 L867.5,516.85 L868.5,517 L869.5,517.17 L870.5,517.36 L871.5,517.56 L872.5,517.79 L873.5,518.03 L874.5,518.29 L875.5,518.56 L876.5,518.84 L877.5,519.14 L878.5,519.45 L879.5,519.77 L880.5,520.1 L881.5,520.44 L882.5,520.78 L883.5,521.13 L884.5,521.48 L885.5,521.84 L886.5,522.19 L887.5,522.55 L888.5,522.9 L889.5,523.25 L890.5,523.59 L891.5,523.93 L892.5,524.26 L893.5,524.58 L894.5,524.9 L895.5,525.2 L896.5,525.48 L897.5,525.76 L898.5,526.02 L899.5,526.26 L900.5,526.49 L901.5,526.7 L902.5,526.9 L903.5,527.07 L904.5,527.22 L905.5,527.35 L906.5,527.47 L907.5,527.56 L908.5,527.62 L909.5,527.67 L910.5,527.7 L911.5,527.7 L912.5,527.7 L913.5,527.7 L914.5,527.7 L915.5,527.7 L916.5,527.7 L917.5,527.7 L918.5,527.7 L919.5,527.7 L920.5,527.7 L921.5,527.7 L922.5,527.7 L923.5,527.7 L924.5,527.7 L925.5,527.7 L926.5,527.7 V556.5 H771.5 Z" fill="url(#fill3)" fill-opacity="0.5"/><path d="M776.5,527.7 L777.5,527.7 L778.5,527.7 L779.5,527.7 L780.5,527.7 L781.5,527.7 L782.5,527.7 L783.5,527.7 L784.5,527.7 L785.5,527.7 L786.5,527.7 L787.5,527.7 L788.5,527.7 L789.5,527.7 L790.5,527.7 L791.5,527.7 L792.5,527.7 L793.5,527.7 L794.5,527.7 L795.5,527.7 L796.5,527.7 L797.5,527.7 L798.5,527.7 L799.5,527.7 L800.5,527.7 L801.5,527.7 L802.5,527.7 L803.5,527.7 L804.5,527.7 L805.5,527.7 L806.5,527.7 L807.5,527.7 L808.5,527.7 L809.5,527.7 L810.5,527.7 L811.5,527.7 L812.5,527.68 L813.5,527.64 L814.5,527.57 L815.5,527.49 L816.5,527.38 L817.5,527.25 L818.5,527.1 L819.5,526.93 L820.5,526.74 L821.5,526.54 L822.5,526.31 L823.5,526.07 L824.5,525.81 L825.5,525.54 L826.5,525.26 L827.5,524.96 L828.5,524.65 L829.5,524.33 L830.5,524 L831.5,523.66 L832.5,523.32 L833.5,522.97 L834.5,522.62 L835.5,522.26 L836.5,521.91 L837.5,521.55 L838.5,521.2 L839.5,520.85 L840.5,520.51 L841.5,520.17 L842.5,519.84 L843.5,519.52 L844.5,519.2 L845.5,518.9 L846.5,518.62 L847.5,518.34 L848.5,518.08 L849.5,517.84 L850.5,517.61 L851.5,517.4 L852.5,517.2 L853.5,517.03 L854.5,516.88 L855.5,516.75 L856.5,516.63 L857.5,516.54 L858.5,516.48 L859.5,516.43 L860.5,516.4 L861.5,516.4 L862.5,516.42 L863.5,516.46 L864.5,516.53 L865.5,516.61 L866.5,516.72 L867.5,516.85 L868.5,517 L869.5,517.17 L870.5,517.36 L871.5,517.56 L872.5,517.79 L873.5,518.03 L874.5,518.29 L875.5,518.56 L876.5,518.84 L877.5,519.14 L878.5,519.45 L879.5,519.77 L880.5,520.1 L881.5,520.44 L882.5,520.78 L883.5,521.13 L884.5,521.48 L885.5,521.84 L886.5,522.19 L887.5,522.55 L888.5,522.9 L889.5,523.25 L890.5,523.59 L891.5,523.93 L892.5,524.26 L893.5,524.58 L894.5,524.9 L895.5,525.2 L896.5,525.48 L897.5,525.76 L898.5,526.02 L899.5,526.26 L900.5,526.49 L901.5,526.7 L902.5,526.9 L903.5,527.07 L904.5,527.22 L905.5,527.35 L906.5,527.47 L907.5,527.56 L908.5,527.62 L909.5,527.67 L910.5,527.7 L911.5,527.7 L912.5,527.7 L913.5,527.7 L914.5,527.7 L915.5,527.7 L916.5,527.7 L917.5,527.7 L918.5,527.7 L919.5,527.7 L920.5,527.7 L921.5,527.7 L922.5,527.7 L923.5,527.7 L924.5,527.7 L925.5,527.7 L926.5,527.7" fill="none" stroke="url(#fill3)" stroke-opacity="0.35" stroke-width="0.8"/><path d="M776.5,525.94 L777.5,525.7 L778.5,525.43 L779.5,525.14 L780.5,524.81 L781.5,524.46 L782.5,524.09 L783.5,523.7 L784.5,523.29 L785.5,522.87 L786.5,522.43 L787.5,521.98 L788.5,521.53 L789.5,521.07 L790.5,520.6 L791.5,520.14 L792.5,519.68 L793.5,519.23 L794.5,518.78 L795.5,518.35 L796.5,517.92 L797.5,517.52 L798.5,517.13 L799.5,516.77 L800.5,516.42 L801.5,516.1 L802.5,515.81 L803.5,515.55 L804.5,515.31 L805.5,515.11 L806.5,514.94 L807.5,514.8 L808.5,514.7 L809.5,514.63 L810.5,514.6 L811.5,514.6 L812.5,514.63 L813.5,514.68 L814.5,514.76 L815.5,514.86 L816.5,514.98 L817.5,515.13 L818.5,515.3 L819.5,515.49 L820.5,515.7 L821.5,515.93 L822.5,516.18 L823.5,516.45 L824.5,516.73 L825.5,517.03 L826.5,517.35 L827.5,517.68 L828.5,518.02 L829.5,518.37 L830.5,518.74 L831.5,519.11 L832.5,519.48 L833.5,519.86 L834.5,520.25 L835.5,520.63 L836.5,521.02 L837.5,521.4 L838.5,521.78 L839.5,522.16 L840.5,522.53 L841.5,522.89 L842.5,523.24 L843.5,523.59 L844.5,523.92 L845.5,524.23 L846.5,524.54 L847.5,524.82 L848.5,525.09 L849.5,525.35 L850.5,525.58 L851.5,525.79 L852.5,525.99 L853.5,526.16 L854.5,526.31 L855.5,526.43 L856.5,526.53 L857.5,526.61 L858.5,526.66 L859.5,526.69 L860.5,526.7 L861.5,526.68 L862.5,526.63 L863.5,526.56 L864.5,526.46 L865.5,526.34 L866.5,526.2 L867.5,526.03 L868.5,525.84 L869.5,525.63 L870.5,525.39 L871.5,525.14 L872.5,524.86 L873.5,524.57 L874.5,524.26 L875.5,523.94 L876.5,523.6 L877.5,523.24 L878.5,522.88 L879.5,522.51 L880.5,522.12 L881.5,521.73 L882.5,521.34 L883.5,520.94 L884.5,520.54 L885.5,520.14 L886.5,519.74 L887.5,519.34 L888.5,518.95 L889.5,518.56 L890.5,518.18 L891.5,517.81 L892.5,517.45 L893.5,517.1 L894.5,516.77 L895.5,516.45 L896.5,516.14 L897.5,515.85 L898.5,515.59 L899.5,515.34 L900.5,515.11 L901.5,514.9 L902.5,514.72 L903.5,514.55 L904.5,514.42 L905.5,514.3 L906.5,514.21 L907.5,514.15 L908.5,514.11 L909.5,514.1 L910.5,514.12 L911.5,514.17 L912.5,514.27 L913.5,514.39 L914.5,514.56 L915.5,514.75 L916.5,514.98 L917.5,515.25 L918.5,515.54 L919.5,515.86 L920.5,516.21 L921.5,516.58 L922.5,516.98 L923.5,517.39 L924.5,517.82 L925.5,518.27 L926.5,518.73 V556.5 H771.5 Z" fill="url(#fill3)" fill-opacity="0.72"/><path d="M776.5,525.94 L777.5,525.7 L778.5,525.43 L779.5,525.14 L780.5,524.81 L781.5,524.46 L782.5,524.09 L783.5,523.7 L784.5,523.29 L785.5,522.87 L786.5,522.43 L787.5,521.98 L788.5,521.53 L789.5,521.07 L790.5,520.6 L791.5,520.14 L792.5,519.68 L793.5,519.23 L794.5,518.78 L795.5,518.35 L796.5,517.92 L797.5,517.52 L798.5,517.13 L799.5,516.77 L800.5,516.42 L801.5,516.1 L802.5,515.81 L803.5,515.55 L804.5,515.31 L805.5,515.11 L806.5,514.94 L807.5,514.8 L808.5,514.7 L809.5,514.63 L810.5,514.6 L811.5,514.6 L812.5,514.63 L813.5,514.68 L814.5,514.76 L815.5,514.86 L816.5,514.98 L817.5,515.13 L818.5,515.3 L819.5,515.49 L820.5,515.7 L821.5,515.93 L822.5,516.18 L823.5,516.45 L824.5,516.73 L825.5,517.03 L826.5,517.35 L827.5,517.68 L828.5,518.02 L829.5,518.37 L830.5,518.74 L831.5,519.11 L832.5,519.48 L833.5,519.86 L834.5,520.25 L835.5,520.63 L836.5,521.02 L837.5,521.4 L838.5,521.78 L839.5,522.16 L840.5,522.53 L841.5,522.89 L842.5,523.24 L843.5,523.59 L844.5,523.92 L845.5,524.23 L846.5,524.54 L847.5,524.82 L848.5,525.09 L849.5,525.35 L850.5,525.58 L851.5,525.79 L852.5,525.99 L853.5,526.16 L854.5,526.31 L855.5,526.43 L856.5,526.53 L857.5,526.61 L858.5,526.66 L859.5,526.69 L860.5,526.7 L861.5,526.68 L862.5,526.63 L863.5,526.56 L864.5,526.46 L865.5,526.34 L866.5,526.2 L867.5,526.03 L868.5,525.84 L869.5,525.63 L870.5,525.39 L871.5,525.14 L872.5,524.86 L873.5,524.57 L874.5,524.26 L875.5,523.94 L876.5,523.6 L877.5,523.24 L878.5,522.88 L879.5,522.51 L880.5,522.12 L881.5,521.73 L882.5,521.34 L883.5,520.94 L884.5,520.54 L885.5,520.14 L886.5,519.74 L887.5,519.34 L888.5,518.95 L889.5,518.56 L890.5,518.18 L891.5,517.81 L892.5,517.45 L893.5,517.1 L894.5,516.77 L895.5,516.45 L896.5,516.14 L897.5,515.85 L898.5,515.59 L899.5,515.34 L900.5,515.11 L901.5,514.9 L902.5,514.72 L903.5,514.55 L904.5,514.42 L905.5,514.3 L906.5,514.21 L907.5,514.15 L908.5,514.11 L909.5,514.1 L910.5,514.12 L911.5,514.17 L912.5,514.27 L913.5,514.39 L914.5,514.56 L915.5,514.75 L916.5,514.98 L917.5,515.25 L918.5,515.54 L919.5,515.86 L920.5,516.21 L921.5,516.58 L922.5,516.98 L923.5,517.39 L924.5,517.82 L925.5,518.27 L926.5,518.73" fill="none" stroke="url(#fill3)" stroke-opacity="0.4" stroke-width="0.8"/><path d="M776.5,534.98 L777.5,534.72 L778.5,534.46 L779.5,534.2 L780.5,533.95 L781.5,533.69 L782.5,533.43 L783.5,533.17 L784.5,532.92 L785.5,532.66 L786.5,532.4 L787.5,532.14 L788.5,531.89 L789.5,531.63 L790.5,531.37 L791.5,531.12 L792.5,530.86 L793.5,530.6 L794.5,530.35 L795.5,530.09 L796.5,529.83 L797.5,529.58 L798.5,529.32 L799.5,529.07 L800.5,528.81 L801.5,528.56 L802.5,528.3 L803.5,528.05 L804.5,527.79 L805.5,527.54 L806.5,527.28 L807.5,527.03 L808.5,526.78 L809.5,526.52 L810.5,526.27 L811.5,526.02 L812.5,525.77 L813.5,525.52 L814.5,525.27 L815.5,525.02 L816.5,524.77 L817.5,524.52 L818.5,524.27 L819.5,524.03 L820.5,523.78 L821.5,523.54 L822.5,523.29 L823.5,523.05 L824.5,522.81 L825.5,522.58 L826.5,522.34 L827.5,522.11 L828.5,521.88 L829.5,521.66 L830.5,521.44 L831.5,521.23 L832.5,521.02 L833.5,520.82 L834.5,520.64 L835.5,520.47 L836.5,520.32 L837.5,520.2 L838.5,520.12 L839.5,520.1 L840.5,520.13 L841.5,520.2 L842.5,520.3 L843.5,520.43 L844.5,520.6 L845.5,520.79 L846.5,521 L847.5,521.23 L848.5,521.48 L849.5,521.73 L850.5,521.99 L851.5,522.25 L852.5,522.5 L853.5,522.73 L854.5,522.95 L855.5,523.15 L856.5,523.32 L857.5,523.47 L858.5,523.58 L859.5,523.65 L860.5,523.69 L861.5,523.7 L862.5,523.68 L863.5,523.63 L864.5,523.56 L865.5,523.46 L866.5,523.35 L867.5,523.21 L868.5,523.06 L869.5,522.9 L870.5,522.72 L871.5,522.54 L872.5,522.36 L873.5,522.17 L874.5,521.99 L875.5,521.82 L876.5,521.65 L877.5,521.5 L878.5,521.37 L879.5,521.25 L880.5,521.15 L881.5,521.08 L882.5,521.03 L883.5,521 L884.5,521.01 L885.5,521.08 L886.5,521.19 L887.5,521.34 L888.5,521.5 L889.5,521.68 L890.5,521.88 L891.5,522.08 L892.5,522.3 L893.5,522.51 L894.5,522.74 L895.5,522.96 L896.5,523.2 L897.5,523.43 L898.5,523.67 L899.5,523.91 L900.5,524.15 L901.5,524.39 L902.5,524.63 L903.5,524.88 L904.5,525.12 L905.5,525.37 L906.5,525.62 L907.5,525.87 L908.5,526.12 L909.5,526.37 L910.5,526.62 L911.5,526.87 L912.5,527.12 L913.5,527.37 L914.5,527.63 L915.5,527.88 L916.5,528.13 L917.5,528.39 L918.5,528.64 L919.5,528.9 L920.5,529.15 L921.5,529.41 L922.5,529.66 L923.5,529.92 L924.5,530.17 L925.5,530.43 L926.5,530.68 V556.5 H771.5 Z" fill="url(#fill3)"/></g><path d="M851.5,547.5 A71,71 0 0 1 794.5,518.83" fill="none" stroke="url(#arc3)" stroke-width="5"/><circle cx="851.5" cy="547.5" r="3.2" fill="#fff" stroke="#8af08a" stroke-width="0.8"/><circle cx="794.5" cy="518.83" r="3.2" fill="#fff" stroke="#8af08a" stroke-width="0.8"/><circle cx="1164.65" cy="475.55" r="71" fill="none" stroke="#f0f0f0" stroke-width="5"/><g clip-path="url(#gclip4)"><path d="M1089.65,525.9 L1090.65,525.9 L1091.65,525.9 L1092.65,525.9 L1093.65,525.9 L1094.65,525.9 L1095.65,525.9 L1096.65,525.9 L1097.65,525.9 L1098.65,525.9 L1099.65,525.9 L1100.65,525.9 L1101.65,525.9 L1102.65,525.9 L1103.65,525.9 L1104.65,525.9 L1105.65,525.9 L1106.65,525.9 L1107.65,525.9 L1108.65,525.9 L1109.65,525.9 L1110.65,525.9 L1111.65,525.9 L1112.65,525.9 L1113.65,525.9 L1114.65,525.9 L1115.65,525.9 L1116.65,525.9 L1117.65,525.9 L1118.65,525.9 L1119.65,525.9 L1120.65,525.9 L1121.65,525.9 L1122.65,525.9 L1123.65,525.9 L1124.65,525.9 L1125.65,525.9 L1126.65,525.87 L1127.65,525.83 L1128.65,525.76 L1129.65,525.68 L1130.65,525.58 L1131.65,525.45 L1132.65,525.31 L1133.65,525.15 L1134.65,524.97 L1135.65,524.78 L1136.65,524.57 L1137.65,524.34 L1138.65,524.1 L1139.65,523.85 L1140.65,523.58 L1141.65,523.3 L1142.65,523.02 L1143.65,522.72 L1144.65,522.42 L1145.65,522.1 L1146.65,521.79 L1147.65,521.47 L1148.65,521.14 L1149.65,520.81 L1150.65,520.49 L1151.65,520.16 L1152.65,519.84 L1153.65,519.52 L1154.65,519.2 L1155.65,518.89 L1156.65,518.59 L1157.65,518.3 L1158.65,518.01 L1159.65,517.74 L1160.65,517.47 L1161.65,517.22 L1162.65,516.99 L1163.65,516.77 L1164.65,516.56 L1165.65,516.37 L1166.65,516.2 L1167.65,516.04 L1168.65,515.91 L1169.65,515.79 L1170.65,515.69 L1171.65,515.61 L1172.65,515.56 L1173.65,515.52 L1174.65,515.5 L1175.65,515.5 L1176.65,515.53 L1177.65,515.57 L1178.65,515.64 L1179.65,515.72 L1180.65,515.82 L1181.65,515.95 L1182.65,516.09 L1183.65,516.25 L1184.65,516.43 L1185.65,516.62 L1186.65,516.83 L1187.65,517.06 L1188.65,517.3 L1189.65,517.55 L1190.65,517.82 L1191.65,518.1 L1192.65,518.38 L1193.65,518.68 L1194.65,518.98 L1195.65,519.3 L1196.65,519.61 L1197.65,519.93 L1198.65,520.26 L1199.65,520.59 L1200.65,520.91 L1201.65,521.24 L1202.65,521.56 L1203.65,521.88 L1204.65,522.2 L1205.65,522.51 L1206.65,522.81 L1207.65,523.1 L1208.65,523.39 L1209.65,523.66 L1210.65,523.93 L1211.65,524.18 L1212.65,524.41 L1213.65,524.63 L1214.65,524.84 L1215.65,525.03 L1216.65,525.2 L1217.65,525.36 L1218.65,525.49 L1219.65,525.61 L1220.65,525.71 L1221.65,525.79 L1222.65,525.84 L1223.65,525.88 L1224.65,525.9 L1225.65,525.9 L1226.65,525.9 L1227.65,525.9 L1228.65,525.9 L1229.65,525.9 L1230.65,525.9 L1231.65,525.9 L1232.65,525.9 L1233.65,525.9 L1234.65,525.9 L1235.65,525.9 L1236.65,525.9 L1237.65,525.9 L1238.65,525.9 L1239.65,525.9 V555.55 H1084.65 Z" fill="url(#fill4)" fill-opacity="0.5"/><path d="M1089.65,525.9 L1090.65,525.9 L1091.65,525.9 L1092.65,525.9 L1093.65,525.9 L1094.65,525.9 L1095.65,525.9 L1096.65,525.9 L1097.65,525.9 L1098.65,525.9 L1099.65,525.9 L1100.65,525.9 L1101.65,525.9 L1102.65,525.9 L1103.65,525.9 L1104.65,525.9 L1105.65,525.9 L1106.65,525.9 L1107.65,525.9 L1108.65,525.9 L1109.65,525.9 L1110.65,525.9 L1111.65,525.9 L1112.65,525.9 L1113.65,525.9 L1114.65,525.9 L1115.65,525.9 L1116.65,525.9 L1117.65,525.9 L1118.65,525.9 L1119.65,525.9 L1120.65,525.9 L1121.65,525.9 L1122.65,525.9 L1123.65,525.9 L1124.65,525.9 L1125.65,525.9 L1126.65,525.87 L1127.65,525.83 L1128.65,525.76 L1129.65,525.68 L1130.65,525.58 L1131.65,525.45 L1132.65,525.31 L1133.65,525.15 L1134.65,524.97 L1135.65,524.78 L1136.65,524.57 L1137.65,524.34 L1138.65,524.1 L1139.65,523.85 L1140.65,523.58 L1141.65,523.3 L1142.65,523.02 L1143.65,522.72 L1144.65,522.42 L1145.65,522.1 L1146.65,521.79 L1147.65,521.47 L1148.65,521.14 L1149.65,520.81 L1150.65,520.49 L1151.65,520.16 L1152.65,519.84 L1153.65,519.52 L1154.65,519.2 L1155.65,518.89 L1156.65,518.59 L1157.65,518.3 L1158.65,518.01 L1159.65,517.74 L1160.65,517.47 L1161.65,517.22 L1162.65,516.99 L1163.65,516.77 L1164.65,516.56 L1165.65,516.37 L1166.65,516.2 L1167.65,516.04 L1168.65,515.91 L1169.65,515.79 L1170.65,515.69 L1171.65,515.61 L1172.65,515.56 L1173.65,515.52 L1174.65,515.5 L1175.65,515.5 L1176.65,515.53 L1177.65,515.57 L1178.65,515.64 L1179.65,515.72 L1180.65,515.82 L1181.65,515.95 L1182.65,516.09 L1183.65,516.25 L1184.65,516.43 L1185.65,516.62 L1186.65,516.83 L1187.65,517.06 L1188.65,517.3 L1189.65,517.55 L1190.65,517.82 L1191.65,518.1 L1192.65,518.38 L1193.65,518.68 L1194.65,518.98 L1195.65,519.3 L1196.65,519.61 L1197.65,519.93 L1198.65,520.26 L1199.65,520.59 L1200.65,520.91 L1201.65,521.24 L1202.65,521.56 L1203.65,521.88 L1204.65,522.2 L1205.65,522.51 L1206.65,522.81 L1207.65,523.1 L1208.65,523.39 L1209.65,523.66 L1210.65,523.93 L1211.65,524.18 L1212.65,524.41 L1213.65,524.63 L1214.65,524.84 L1215.65,525.03 L1216.65,525.2 L1217.65,525.36 L1218.65,525.49 L1219.65,525.61 L1220.65,525.71 L1221.65,525.79 L1222.65,525.84 L1223.65,525.88 L1224.65,525.9 L1225.65,525.9 L1226.65,525.9 L1227.65,525.9 L1228.65,525.9 L1229.65,525.9 L1230.65,525.9 L1231.65,525.9 L1232.65,525.9 L1233.65,525.9 L1234.65,525.9 L1235.65,525.9 L1236.65,525.9 L1237.65,525.9 L1238.65,525.9 L1239.65,525.9" fill="none" stroke="url(#fill4)" stroke-opacity="0.35" stroke-width="0.8"/><path d="M1089.65,524.48 L1090.65,524.29 L1091.65,524.08 L1092.65,523.83 L1093.65,523.56 L1094.65,523.27 L1095.65,522.94 L1096.65,522.6 L1097.65,522.23 L1098.65,521.84 L1099.65,521.44 L1100.65,521.03 L1101.65,520.6 L1102.65,520.16 L1103.65,519.72 L1104.65,519.27 L1105.65,518.83 L1106.65,518.38 L1107.65,517.94 L1108.65,517.5 L1109.65,517.07 L1110.65,516.66 L1111.65,516.26 L1112.65,515.87 L1113.65,515.5 L1114.65,515.16 L1115.65,514.83 L1116.65,514.54 L1117.65,514.27 L1118.65,514.02 L1119.65,513.81 L1120.65,513.62 L1121.65,513.47 L1122.65,513.35 L1123.65,513.27 L1124.65,513.22 L1125.65,513.2 L1126.65,513.21 L1127.65,513.25 L1128.65,513.31 L1129.65,513.4 L1130.65,513.5 L1131.65,513.64 L1132.65,513.79 L1133.65,513.97 L1134.65,514.17 L1135.65,514.38 L1136.65,514.62 L1137.65,514.88 L1138.65,515.15 L1139.65,515.45 L1140.65,515.75 L1141.65,516.07 L1142.65,516.4 L1143.65,516.75 L1144.65,517.1 L1145.65,517.46 L1146.65,517.83 L1147.65,518.2 L1148.65,518.58 L1149.65,518.96 L1150.65,519.33 L1151.65,519.71 L1152.65,520.09 L1153.65,520.46 L1154.65,520.82 L1155.65,521.18 L1156.65,521.53 L1157.65,521.86 L1158.65,522.19 L1159.65,522.5 L1160.65,522.8 L1161.65,523.08 L1162.65,523.35 L1163.65,523.6 L1164.65,523.83 L1165.65,524.04 L1166.65,524.22 L1167.65,524.39 L1168.65,524.53 L1169.65,524.65 L1170.65,524.75 L1171.65,524.82 L1172.65,524.87 L1173.65,524.9 L1174.65,524.9 L1175.65,524.87 L1176.65,524.82 L1177.65,524.75 L1178.65,524.65 L1179.65,524.53 L1180.65,524.39 L1181.65,524.22 L1182.65,524.04 L1183.65,523.83 L1184.65,523.6 L1185.65,523.35 L1186.65,523.08 L1187.65,522.8 L1188.65,522.5 L1189.65,522.19 L1190.65,521.86 L1191.65,521.53 L1192.65,521.18 L1193.65,520.82 L1194.65,520.46 L1195.65,520.09 L1196.65,519.71 L1197.65,519.33 L1198.65,518.96 L1199.65,518.58 L1200.65,518.2 L1201.65,517.83 L1202.65,517.46 L1203.65,517.1 L1204.65,516.75 L1205.65,516.4 L1206.65,516.07 L1207.65,515.75 L1208.65,515.45 L1209.65,515.15 L1210.65,514.88 L1211.65,514.62 L1212.65,514.38 L1213.65,514.17 L1214.65,513.97 L1215.65,513.79 L1216.65,513.64 L1217.65,513.5 L1218.65,513.4 L1219.65,513.31 L1220.65,513.25 L1221.65,513.21 L1222.65,513.2 L1223.65,513.22 L1224.65,513.27 L1225.65,513.35 L1226.65,513.47 L1227.65,513.62 L1228.65,513.81 L1229.65,514.02 L1230.65,514.27 L1231.65,514.54 L1232.65,514.83 L1233.65,515.16 L1234.65,515.5 L1235.65,515.87 L1236.65,516.26 L1237.65,516.66 L1238.65,517.07 L1239.65,517.5 V555.55 H1084.65 Z" fill="url(#fill4)" fill-opacity="0.72"/><path d="M1089.65,524.48 L1090.65,524.29 L1091.65,524.08 L1092.65,523.83 L1093.65,523.56 L1094.65,523.27 L1095.65,522.94 L1096.65,522.6 L1097.65,522.23 L1098.65,521.84 L1099.65,521.44 L1100.65,521.03 L1101.65,520.6 L1102.65,520.16 L1103.65,519.72 L1104.65,519.27 L1105.65,518.83 L1106.65,518.38 L1107.65,517.94 L1108.65,517.5 L1109.65,517.07 L1110.65,516.66 L1111.65,516.26 L1112.65,515.87 L1113.65,515.5 L1114.65,515.16 L1115.65,514.83 L1116.65,514.54 L1117.65,514.27 L1118.65,514.02 L1119.65,513.81 L1120.65,513.62 L1121.65,513.47 L1122.65,513.35 L1123.65,513.27 L1124.65,513.22 L1125.65,513.2 L1126.65,513.21 L1127.65,513.25 L1128.65,513.31 L1129.65,513.4 L1130.65,513.5 L1131.65,513.64 L1132.65,513.79 L1133.65,513.97 L1134.65,514.17 L1135.65,514.38 L1136.65,514.62 L1137.65,514.88 L1138.65,515.15 L1139.65,515.45 L1140.65,515.75 L1141.65,516.07 L1142.65,516.4 L1143.65,516.75 L1144.65,517.1 L1145.65,517.46 L1146.65,517.83 L1147.65,518.2 L1148.65,518.58 L1149.65,518.96 L1150.65,519.33 L1151.65,519.71 L1152.65,520.09 L1153.65,520.46 L1154.65,520.82 L1155.65,521.18 L1156.65,521.53 L1157.65,521.86 L1158.65,522.19 L1159.65,522.5 L1160.65,522.8 L1161.65,523.08 L1162.65,523.35 L1163.65,523.6 L1164.65,523.83 L1165.65,524.04 L1166.65,524.22 L1167.65,524.39 L1168.65,524.53 L1169.65,524.65 L1170.65,524.75 L1171.65,524.82 L1172.65,524.87 L1173.65,524.9 L1174.65,524.9 L1175.65,524.87 L1176.65,524.82 L1177.65,524.75 L1178.65,524.65 L1179.65,524.53 L1180.65,524.39 L1181.65,524.22 L1182.65,524.04 L1183.65,523.83 L1184.65,523.6 L1185.65,523.35 L1186.65,523.08 L1187.65,522.8 L1188.65,522.5 L1189.65,522.19 L1190.65,521.86 L1191.65,521.53 L1192.65,521.18 L1193.65,520.82 L1194.65,520.46 L1195.65,520.09 L1196.65,519.71 L1197.65,519.33 L1198.65,518.96 L1199.65,518.58 L1200.65,518.2 L1201.65,517.83 L1202.65,517.46 L1203.65,517.1 L1204.65,516.75 L1205.65,516.4 L1206.65,516.07 L1207.65,515.75 L1208.65,515.45 L1209.65,515.15 L1210.65,514.88 L1211.65,514.62 L1212.65,514.38 L1213.65,514.17 L1214.65,513.97 L1215.65,513.79 L1216.65,513.64 L1217.65,513.5 L1218.65,513.4 L1219.65,513.31 L1220.65,513.25 L1221.65,513.21 L1222.65,513.2 L1223.65,513.22 L1224.65,513.27 L1225.65,513.35 L1226.65,513.47 L1227.65,513.62 L1228.65,513.81 L1229.65,514.02 L1230.65,514.27 L1231.65,514.54 L1232.65,514.83 L1233.65,515.16 L1234.65,515.5 L1235.65,515.87 L1236.65,516.26 L1237.65,516.66 L1238.65,517.07 L1239.65,517.5" fill="none" stroke="url(#fill4)" stroke-opacity="0.4" stroke-width="0.8"/><path d="M1089.65,533.28 L1090.65,533.02 L1091.65,532.77 L1092.65,532.51 L1093.65,532.25 L1094.65,531.99 L1095.65,531.74 L1096.65,531.48 L1097.65,531.22 L1098.65,530.96 L1099.65,530.71 L1100.65,530.45 L1101.65,530.19 L1102.65,529.93 L1103.65,529.68 L1104.65,529.42 L1105.65,529.16 L1106.65,528.91 L1107.65,528.65 L1108.65,528.4 L1109.65,528.14 L1110.65,527.88 L1111.65,527.63 L1112.65,527.37 L1113.65,527.12 L1114.65,526.86 L1115.65,526.61 L1116.65,526.35 L1117.65,526.1 L1118.65,525.85 L1119.65,525.59 L1120.65,525.34 L1121.65,525.09 L1122.65,524.83 L1123.65,524.58 L1124.65,524.33 L1125.65,524.08 L1126.65,523.83 L1127.65,523.58 L1128.65,523.33 L1129.65,523.08 L1130.65,522.84 L1131.65,522.59 L1132.65,522.34 L1133.65,522.1 L1134.65,521.86 L1135.65,521.62 L1136.65,521.38 L1137.65,521.14 L1138.65,520.91 L1139.65,520.68 L1140.65,520.45 L1141.65,520.22 L1142.65,520.01 L1143.65,519.79 L1144.65,519.59 L1145.65,519.39 L1146.65,519.21 L1147.65,519.04 L1148.65,518.9 L1149.65,518.78 L1150.65,518.71 L1151.65,518.7 L1152.65,518.73 L1153.65,518.8 L1154.65,518.89 L1155.65,519.02 L1156.65,519.16 L1157.65,519.34 L1158.65,519.53 L1159.65,519.74 L1160.65,519.96 L1161.65,520.19 L1162.65,520.41 L1163.65,520.64 L1164.65,520.86 L1165.65,521.07 L1166.65,521.26 L1167.65,521.44 L1168.65,521.58 L1169.65,521.71 L1170.65,521.8 L1171.65,521.87 L1172.65,521.9 L1173.65,521.9 L1174.65,521.86 L1175.65,521.8 L1176.65,521.71 L1177.65,521.6 L1178.65,521.46 L1179.65,521.3 L1180.65,521.12 L1181.65,520.92 L1182.65,520.71 L1183.65,520.5 L1184.65,520.28 L1185.65,520.06 L1186.65,519.85 L1187.65,519.64 L1188.65,519.45 L1189.65,519.27 L1190.65,519.11 L1191.65,518.98 L1192.65,518.87 L1193.65,518.78 L1194.65,518.73 L1195.65,518.7 L1196.65,518.72 L1197.65,518.79 L1198.65,518.91 L1199.65,519.06 L1200.65,519.23 L1201.65,519.41 L1202.65,519.61 L1203.65,519.81 L1204.65,520.03 L1205.65,520.25 L1206.65,520.47 L1207.65,520.7 L1208.65,520.93 L1209.65,521.17 L1210.65,521.4 L1211.65,521.64 L1212.65,521.88 L1213.65,522.12 L1214.65,522.37 L1215.65,522.61 L1216.65,522.86 L1217.65,523.11 L1218.65,523.36 L1219.65,523.6 L1220.65,523.85 L1221.65,524.1 L1222.65,524.36 L1223.65,524.61 L1224.65,524.86 L1225.65,525.11 L1226.65,525.36 L1227.65,525.62 L1228.65,525.87 L1229.65,526.13 L1230.65,526.38 L1231.65,526.63 L1232.65,526.89 L1233.65,527.14 L1234.65,527.4 L1235.65,527.65 L1236.65,527.91 L1237.65,528.17 L1238.65,528.42 L1239.65,528.68 V555.55 H1084.65 Z" fill="url(#fill4)"/></g><path d="M1164.65,546.55 A71,71 0 0 1 1107.65,517.88" fill="none" stroke="url(#arc4)" stroke-width="5"/><circle cx="1164.65" cy="546.55" r="3.2" fill="#fff" stroke="#8af08a" stroke-width="0.8"/><circle cx="1107.65" cy="517.88" r="3.2" fill="#fff" stroke="#8af08a" stroke-width="0.8"/><circle cx="135.7" cy="472.3" r="14.4" fill="#f2f2f2"/><circle cx="325.6" cy="472.3" r="14.4" fill="#f2f2f2"/><path d="M138.3,464.6 L130.2,472.3 L138.3,480.2" fill="none" stroke="#000" stroke-width="2.1" stroke-linecap="round" stroke-linejoin="round"/><path d="M322.8,464.4 L331,472.3 L322.8,480.2" fill="none" stroke="#000" stroke-width="2.1" stroke-linecap="round" stroke-linejoin="round"/><circle cx="447.6" cy="472.4" r="14.4" fill="#f2f2f2"/><circle cx="637.5" cy="472.3" r="14.4" fill="#f2f2f2"/><path d="M450.2,464.7 L442.1,472.4 L450.2,480.3" fill="none" stroke="#000" stroke-width="2.1" stroke-linecap="round" stroke-linejoin="round"/><path d="M634.7,464.4 L642.9,472.3 L634.7,480.2" fill="none" stroke="#000" stroke-width="2.1" stroke-linecap="round" stroke-linejoin="round"/><circle cx="756" cy="474.7" r="14.4" fill="#f2f2f2"/><circle cx="945.8" cy="474.6" r="14.4" fill="#f2f2f2"/><path d="M758.6,467 L750.5,474.7 L758.6,482.6" fill="none" stroke="#000" stroke-width="2.1" stroke-linecap="round" stroke-linejoin="round"/><path d="M943,466.7 L951.2,474.6 L943,482.5" fill="none" stroke="#000" stroke-width="2.1" stroke-linecap="round" stroke-linejoin="round"/><circle cx="1069.2" cy="473.8" r="14.4" fill="#f2f2f2"/><circle cx="1259.1" cy="473.7" r="14.4" fill="#f2f2f2"/><path d="M1071.8,466.1 L1063.7,473.8 L1071.8,481.7" fill="none" stroke="#000" stroke-width="2.1" stroke-linecap="round" stroke-linejoin="round"/><path d="M1256.3,465.8 L1264.5,473.7 L1256.3,481.6" fill="none" stroke="#000" stroke-width="2.1" stroke-linecap="round" stroke-linejoin="round"/><rect x="205.4" y="558.2" width="53.3" height="22.7" rx="6" fill="#f2f2f2"/><rect x="517.1" y="558.2" width="53" height="22.7" rx="6" fill="#f2f2f2"/><rect x="825" y="557.6" width="53" height="23.1" rx="6" fill="#f2f2f2"/><rect x="1139" y="557.6" width="53" height="23.1" rx="6" fill="#f2f2f2"/></svg><div class="t" id="n1a" style="left:512.41px;top:32.51px;font-size:12.21px;font-weight:700;color:#111;-webkit-text-stroke:0.35px #111;transform:scaleX(0.9104);">Notification<span class="bm"></span></div><div class="t" id="n1b" style="left:525.35px;top:46.01px;font-size:12.21px;font-weight:700;color:#111;-webkit-text-stroke:0.35px #111;transform:scaleX(0.8780);">Screen<span class="bm"></span></div><div class="t" id="n2a" style="left:820.41px;top:32.51px;font-size:12.21px;font-weight:700;color:#111;-webkit-text-stroke:0.35px #111;transform:scaleX(0.9104);">Notification<span class="bm"></span></div><div class="t" id="n2b" style="left:833.35px;top:46.01px;font-size:12.21px;font-weight:700;color:#111;-webkit-text-stroke:0.35px #111;transform:scaleX(0.8780);">Screen<span class="bm"></span></div><div class="t" id="n3a" style="left:1133.04px;top:32.51px;font-size:12.21px;font-weight:700;color:#111;-webkit-text-stroke:0.35px #111;transform:scaleX(0.9112);">Notification<span class="bm"></span></div><div class="t" id="n3b" style="left:1146.59px;top:46.01px;font-size:12.21px;font-weight:700;color:#111;-webkit-text-stroke:0.35px #111;transform:scaleX(0.8780);">Screen<span class="bm"></span></div><div class="t" id="lair" style="left:221.19px;top:146.5px;font-size:13.23px;font-weight:700;color:#111;-webkit-text-stroke:0.35px #111;transform:scaleX(0.9809);">Air<span class="bm"></span></div><div class="t" id="ltemp" style="left:137.18px;top:219.5px;font-size:13.23px;font-weight:700;color:#111;-webkit-text-stroke:0.35px #111;transform:scaleX(1.0320);">Temp<span class="bm"></span></div><div class="t" id="lhum" style="left:274.59px;top:219.5px;font-size:13.23px;font-weight:700;color:#111;-webkit-text-stroke:0.35px #111;transform:scaleX(1.0446);">Humidity<span class="bm"></span></div><div class="t" id="lvoc" style="left:217.02px;top:294.1px;font-size:13.23px;font-weight:700;color:#111;-webkit-text-stroke:0.35px #111;transform:scaleX(1.0553);">VOC<span class="bm"></span></div><div class="t" id="t1a" style="left:479.77px;top:100.72px;font-size:19.19px;font-weight:700;color:#111;-webkit-text-stroke:0.35px #111;transform:scaleX(1.0348);">Maintenance<span class="bm"></span></div><div class="t" id="t1b" style="left:496.2px;top:124.1px;font-size:19.19px;font-weight:700;color:#111;-webkit-text-stroke:0.35px #111;transform:scaleX(0.9775);">Reminder<span class="bm"></span></div><div class="t" id="t2a" style="left:809.59px;top:99.72px;font-size:19.19px;font-weight:700;color:#111;-webkit-text-stroke:0.35px #111;transform:scaleX(1.0192);">Cleaning<span class="bm"></span></div><div class="t" id="t2b" style="left:808.8px;top:123.4px;font-size:19.19px;font-weight:700;color:#111;-webkit-text-stroke:0.35px #111;transform:scaleX(0.9777);">Reminder<span class="bm"></span></div><div class="t" id="t3a" style="left:1131.76px;top:99.32px;font-size:19.19px;font-weight:700;color:#111;-webkit-text-stroke:0.35px #111;transform:scaleX(1.0166);">Inhaler<span class="bm"></span></div><div class="t" id="t3b" style="left:1122.63px;top:122.9px;font-size:19.19px;font-weight:700;color:#111;-webkit-text-stroke:0.35px #111;transform:scaleX(0.9775);">Reminder<span class="bm"></span></div><div class="t" id="r1" style="left:499.56px;top:257.9px;font-size:13.95px;font-weight:700;color:#111;-webkit-text-stroke:0.35px #111;transform:scaleX(0.9763);">Tap to Reset<span class="bm"></span></div><div class="t" id="r2" style="left:810.59px;top:257.4px;font-size:13.95px;font-weight:700;color:#111;-webkit-text-stroke:0.35px #111;transform:scaleX(0.9768);">Tap to Reset<span class="bm"></span></div><div class="t" id="r3" style="left:1124.58px;top:257px;font-size:13.95px;font-weight:700;color:#111;-webkit-text-stroke:0.35px #111;transform:scaleX(0.9882);">Tap to Reset<span class="bm"></span></div><div class="t" id="g1" style="left:183.2px;top:372.71px;font-size:16.42px;font-weight:700;color:#111;-webkit-text-stroke:0.35px #111;transform:scaleX(0.9847);">Air Particles<span class="bm"></span></div><div class="t" id="g2" style="left:492px;top:372.71px;font-size:16.42px;font-weight:700;color:#111;-webkit-text-stroke:0.35px #111;transform:scaleX(1.0206);">Temperature<span class="bm"></span></div><div class="t" id="g3" style="left:831px;top:372.91px;font-size:16.42px;font-weight:700;color:#111;-webkit-text-stroke:0.35px #111;transform:scaleX(0.9960);">VOCs<span class="bm"></span></div><div class="t" id="g4" style="left:1130.97px;top:372.21px;font-size:16.42px;font-weight:700;color:#111;-webkit-text-stroke:0.35px #111;transform:scaleX(1.0083);">Humidity<span class="bm"></span></div><div class="t" id="ga1" style="left:180.99px;top:457.71px;font-size:13.81px;font-weight:700;color:#fff;-webkit-text-stroke:0.35px #fff;transform:scaleX(0.9480);">Needs Attention<span class="bm"></span></div><div class="t" id="ga2" style="left:208.71px;top:475.41px;font-size:16.28px;font-weight:700;color:#fff;-webkit-text-stroke:0.35px #fff;">34µm<span class="bm"></span></div><div class="t" id="ga3" style="left:251.43px;top:476.51px;font-size:8.14px;font-weight:700;color:#fff;-webkit-text-stroke:0.35px #fff;transform:scaleX(1.0577);">3<span class="bm"></span></div><div class="t" id="gt1" style="left:514.16px;top:484.6px;font-size:12.5px;font-weight:700;color:#fff;-webkit-text-stroke:0.35px #fff;transform:scaleX(1.0919);">Moderate<span class="bm"></span></div><div class="t" id="gt2" style="left:525.57px;top:501.31px;font-size:16.28px;font-weight:700;color:#fff;-webkit-text-stroke:0.35px #fff;transform:scaleX(1.0024);">23°C<span class="bm"></span></div><div class="t" id="gv1" style="left:824.2px;top:466.4px;font-size:12.94px;font-weight:700;color:#111;-webkit-text-stroke:0.35px #111;transform:scaleX(0.9571);">Excellent<span class="bm"></span></div><div class="t" id="gv2" style="left:836.72px;top:488.61px;font-size:14.97px;font-weight:700;color:#111;-webkit-text-stroke:0.35px #111;transform:scaleX(0.9251);">2<span class="bm"></span></div><div class="t" id="gv3" style="left:845.71px;top:490.6px;font-size:12.5px;font-weight:700;color:#111;-webkit-text-stroke:0.35px #111;transform:scaleX(0.8835);">ppm<span class="bm"></span></div><div class="t" id="gh1" style="left:1136.6px;top:465.6px;font-size:12.94px;font-weight:700;color:#111;-webkit-text-stroke:0.35px #111;transform:scaleX(0.9571);">Excellent<span class="bm"></span></div><div class="t" id="gh2" style="left:1149.57px;top:485.81px;font-size:16.42px;font-weight:700;color:#111;-webkit-text-stroke:0.35px #111;transform:scaleX(0.8818);">52%<span class="bm"></span></div><div class="t" id="a1" style="left:214.82px;top:563.9px;font-size:11.34px;font-weight:700;color:#111;-webkit-text-stroke:0.35px #111;transform:scaleX(0.9212);">Advice<span class="bm"></span></div><div class="t" id="a2" style="left:526.23px;top:563.9px;font-size:11.34px;font-weight:700;color:#111;-webkit-text-stroke:0.35px #111;transform:scaleX(0.9226);">Advice<span class="bm"></span></div><div class="t" id="a3" style="left:834.57px;top:563.6px;font-size:11.34px;font-weight:700;color:#111;-webkit-text-stroke:0.35px #111;transform:scaleX(0.9226);">Advice<span class="bm"></span></div><div class="t" id="a4" style="left:1148.57px;top:563.6px;font-size:11.34px;font-weight:700;color:#111;-webkit-text-stroke:0.35px #111;transform:scaleX(0.9226);">Advice<span class="bm"></span></div><div class="t" id="d1v" style="left:192.23px;top:644.91px;font-size:27.47px;font-weight:700;color:#111;-webkit-text-stroke:0.6px #111;transform:scaleX(0.9738);">34µm<span class="bm"></span></div><div class="t" id="d1s" style="left:262.59px;top:644.11px;font-size:14.24px;font-weight:400;color:#111;transform:scaleX(0.9152);">3<span class="bm"></span></div><div class="t" id="d1t" style="left:192.59px;top:680.7px;font-size:12.65px;font-weight:700;color:#111;-webkit-text-stroke:0.35px #111;transform:scaleX(0.9870);">Air Particles<span class="bm"></span></div><div class="t" id="d1l1" style="left:164.69px;top:703.4px;font-size:13.23px;font-weight:400;color:#222;transform:scaleX(1.1475);">Your childs room is<span class="bm"></span></div><div class="t" id="d1l2" style="left:158.37px;top:722px;font-size:13.23px;font-weight:400;color:#222;transform:scaleX(1.2326);">collecting with dust.<span class="bm"></span></div><div class="t" id="d1l3" style="left:164.72px;top:740.5px;font-size:13.23px;font-weight:400;color:#222;transform:scaleX(1.2041);">Try ventilating and<span class="bm"></span></div><div class="t" id="d1l4" style="left:155.62px;top:758.8px;font-size:13.23px;font-weight:400;color:#222;transform:scaleX(1.2168);">vacuuming the room<span class="bm"></span></div><div class="t" id="d1l5" style="left:155.38px;top:777px;font-size:13.23px;font-weight:400;color:#222;transform:scaleX(1.2293);">to reduce air particle<span class="bm"></span></div><div class="t" id="d1l6" style="left:206.73px;top:795.3px;font-size:13.23px;font-weight:400;color:#222;transform:scaleX(1.2242);">count.<span class="bm"></span></div><div class="t" id="d2v" style="left:514.2px;top:645.21px;font-size:26.02px;font-weight:700;color:#111;-webkit-text-stroke:0.6px #111;transform:scaleX(0.9668);">23°C<span class="bm"></span></div><div class="t" id="d2t" style="left:506.02px;top:680.82px;font-size:12.5px;font-weight:700;color:#111;-webkit-text-stroke:0.35px #111;transform:scaleX(1.0268);">Temperature<span class="bm"></span></div><div class="t" id="d2l1" style="left:453.17px;top:704.76px;font-size:16.35px;font-weight:400;color:#222;transform:scaleX(1.0885);">Your childs room is too<span class="bm"></span></div><div class="t" id="d2l2" style="left:458.09px;top:725.76px;font-size:16.35px;font-weight:400;color:#222;transform:scaleX(1.0905);">warm. Try turning the<span class="bm"></span></div><div class="t" id="d2l3" style="left:444.99px;top:746.76px;font-size:16.35px;font-weight:400;color:#222;transform:scaleX(1.1266);">heating down to ensure<span class="bm"></span></div><div class="t" id="d2l4" style="left:445.23px;top:767.76px;font-size:16.35px;font-weight:400;color:#222;transform:scaleX(1.1150);">the room temperature is<span class="bm"></span></div><div class="t" id="d2l5" style="left:450.99px;top:788.76px;font-size:16.35px;font-weight:400;color:#222;transform:scaleX(1.0905);">kept between 16-24°C.<span class="bm"></span></div><div class="t" id="d3v" style="left:831.69px;top:645.4px;font-size:26.89px;font-weight:700;color:#111;-webkit-text-stroke:0.6px #111;transform:scaleX(0.9688);">2<span class="bm"></span></div><div class="t" id="d3u" style="left:845.43px;top:657.4px;font-size:12.5px;font-weight:700;color:#111;-webkit-text-stroke:0.35px #111;transform:scaleX(1.1109);">ppm<span class="bm"></span></div><div class="t" id="d3t" style="left:837.44px;top:680.82px;font-size:12.35px;font-weight:700;color:#111;-webkit-text-stroke:0.35px #111;transform:scaleX(1.0027);">VOCs<span class="bm"></span></div><div class="t" id="d3l1" style="left:781.69px;top:704px;font-size:13.23px;font-weight:400;color:#222;transform:scaleX(1.1737);">Your childs room has<span class="bm"></span></div><div class="t" id="d3l2" style="left:786.53px;top:722.9px;font-size:13.23px;font-weight:400;color:#222;transform:scaleX(1.1625);">low levels of VOCs.<span class="bm"></span></div><div class="t" id="d3l3" style="left:790px;top:741.2px;font-size:13.23px;font-weight:400;color:#222;transform:scaleX(1.1760);">VOCs are toxic air<span class="bm"></span></div><div class="t" id="d3l4" style="left:777.62px;top:759.4px;font-size:13.23px;font-weight:400;color:#222;transform:scaleX(1.2075);">borne gases found in<span class="bm"></span></div><div class="t" id="d3l5" style="left:787.73px;top:777.7px;font-size:13.23px;font-weight:400;color:#222;transform:scaleX(1.2291);">cleaning products,<span class="bm"></span></div><div class="t" id="d3l6" style="left:784.74px;top:795.9px;font-size:13.23px;font-weight:400;color:#222;transform:scaleX(1.2434);">paint and perfume.<span class="bm"></span></div><div class="t" id="d4v" style="left:1142.38px;top:644.8px;font-size:26.89px;font-weight:700;color:#111;-webkit-text-stroke:0.6px #111;transform:scaleX(0.9004);">52%<span class="bm"></span></div><div class="t" id="d4t" style="left:1138.61px;top:678.6px;font-size:13.23px;font-weight:700;color:#111;-webkit-text-stroke:0.35px #111;transform:scaleX(0.9568);">Humidity<span class="bm"></span></div><div class="t" id="d4l1" style="left:1093.06px;top:712.8px;font-size:13.23px;font-weight:400;color:#222;transform:scaleX(1.1695);">Your childs room is at<span class="bm"></span></div><div class="t" id="d4l2" style="left:1114.75px;top:731px;font-size:13.23px;font-weight:400;color:#222;transform:scaleX(1.2213);">a good level of<span class="bm"></span></div><div class="t" id="d4l3" style="left:1114.26px;top:749.3px;font-size:13.23px;font-weight:400;color:#222;transform:scaleX(1.1936);">humidity. Try to<span class="bm"></span></div><div class="t" id="d4l4" style="left:1091.85px;top:767.5px;font-size:13.23px;font-weight:400;color:#222;transform:scaleX(1.1986);">always keep humidity<span class="bm"></span></div><div class="t" id="d4l5" style="left:1100.3px;top:786.3px;font-size:13.23px;font-weight:400;color:#222;transform:scaleX(1.1685);">between 50%-55%.<span class="bm"></span></div></body></html>
